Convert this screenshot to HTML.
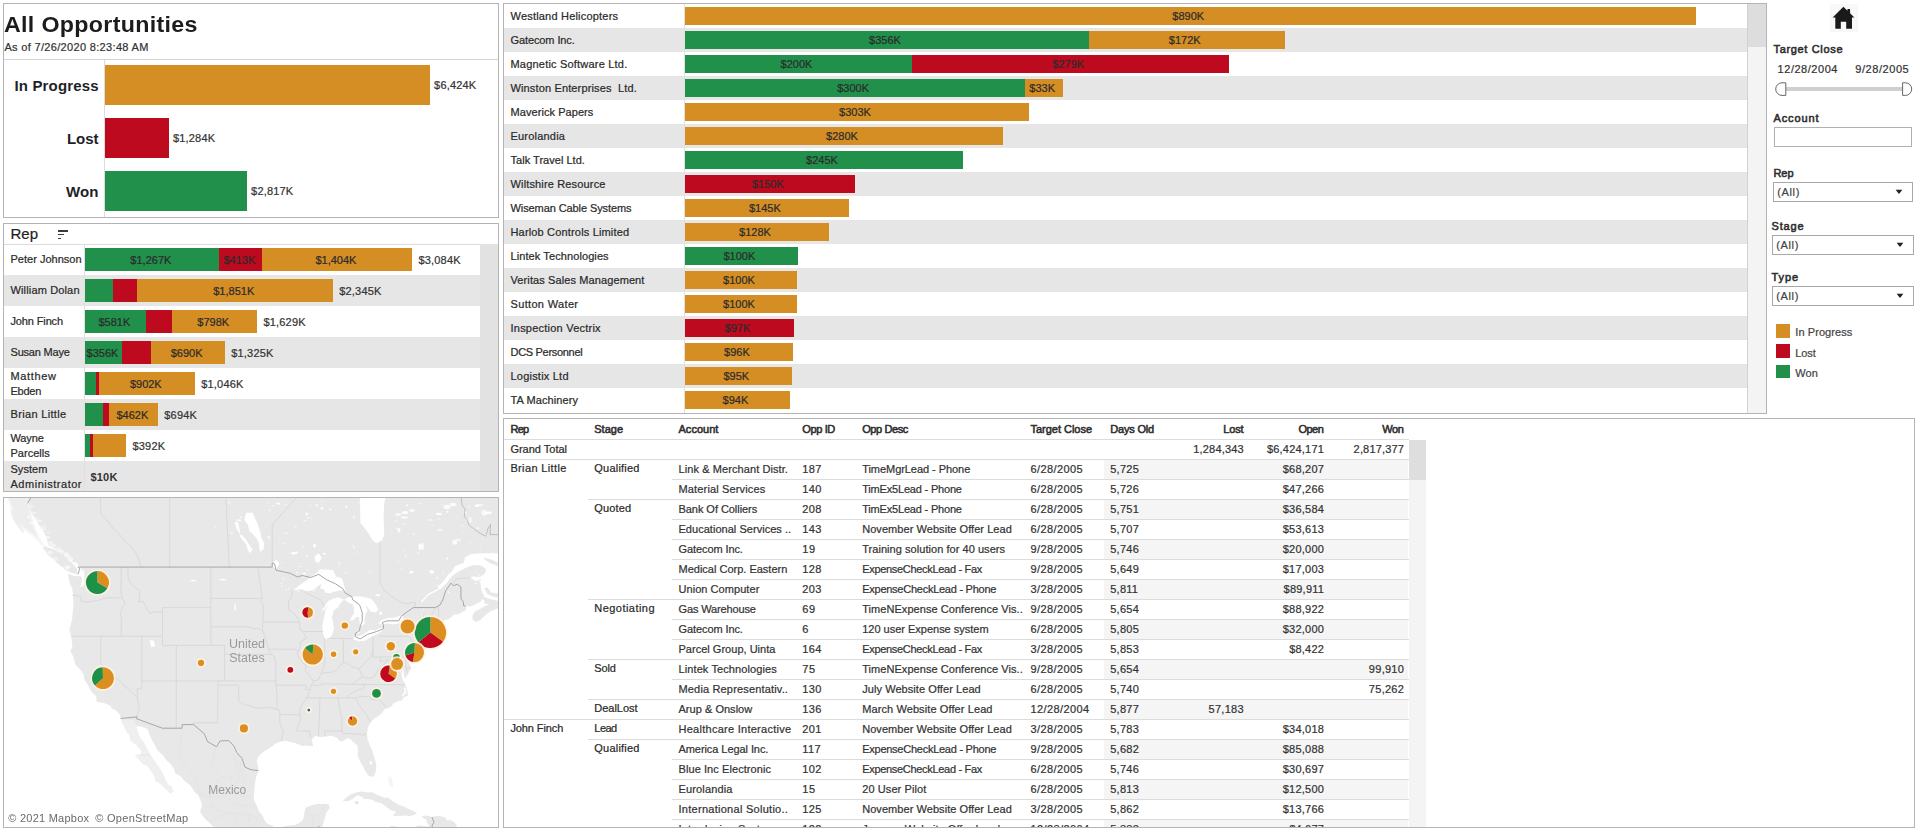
<!DOCTYPE html>
<html lang="en"><head><meta charset="utf-8"><title>All Opportunities</title><style>
html,body{margin:0;padding:0;background:#fff;}
body{width:1919px;height:836px;overflow:hidden;position:relative;font-family:"Liberation Sans",sans-serif;}
.t{position:absolute;white-space:pre;line-height:1;-webkit-text-stroke:0.22px currentColor;}
.sb{-webkit-text-stroke:0.55px currentColor;}
.r{position:absolute;}
.f{position:absolute;box-sizing:border-box;border:1px solid #b4b4b4;}
</style></head>
<body>
<!-- Panel A: All Opportunities -->
<div class="f" style="left:3px;top:3px;width:496px;height:215px;"></div>
<div class="t" style="left:4.40px;top:14.70px;font-size:21.5px;color:#1c1c1c;font-weight:700;-webkit-text-stroke:0;letter-spacing:0.300px;transform-origin:0 0;transform:scaleX(1.0799);">All Opportunities</div>
<div class="t" style="left:4.40px;top:41.59px;font-size:11px;color:#333;letter-spacing:0.329px;">As of 7/26/2020 8:23:48 AM</div>
<div class="r" style="left:4.00px;top:59.00px;width:494.00px;height:1.00px;background:#d4d4d4;"></div>
<div class="r" style="left:104.00px;top:60.00px;width:1.00px;height:157.00px;background:#dcdcdc;"></div>
<div class="r" style="left:105.00px;top:65.00px;width:324.80px;height:39.50px;background:#d58e24;"></div>
<div class="t" style="left:14.50px;top:78.30px;font-size:15px;color:#1f1f2a;font-weight:700;-webkit-text-stroke:0;letter-spacing:0.147px;">In Progress</div>
<div class="t" style="left:434.10px;top:80.44px;font-size:11px;color:#333;letter-spacing:0.170px;">$6,424K</div>
<div class="r" style="left:105.00px;top:118.20px;width:63.70px;height:39.50px;background:#be0a1f;"></div>
<div class="t" style="left:67.00px;top:131.00px;font-size:15px;color:#1f1f2a;font-weight:700;-webkit-text-stroke:0;letter-spacing:-0.055px;">Lost</div>
<div class="t" style="left:173.00px;top:132.64px;font-size:11px;color:#333;letter-spacing:0.170px;">$1,284K</div>
<div class="r" style="left:105.00px;top:171.20px;width:141.80px;height:39.50px;background:#21904a;"></div>
<div class="t" style="left:66.00px;top:183.50px;font-size:15px;color:#1f1f2a;font-weight:700;-webkit-text-stroke:0;letter-spacing:0.144px;">Won</div>
<div class="t" style="left:251.10px;top:185.64px;font-size:11px;color:#333;letter-spacing:0.170px;">$2,817K</div>
<!-- Panel B: Rep -->
<div class="f" style="left:3px;top:223px;width:496px;height:269px;"></div>
<div class="t" style="left:10.50px;top:226.20px;font-size:15px;color:#222;letter-spacing:0.041px;">Rep</div>
<div class="r" style="left:57.80px;top:230.00px;width:10.00px;height:1.60px;background:#3c3c3c;"></div>
<div class="r" style="left:57.80px;top:233.80px;width:6.70px;height:1.60px;background:#3c3c3c;"></div>
<div class="r" style="left:57.80px;top:237.90px;width:3.70px;height:1.60px;background:#3c3c3c;"></div>
<div class="r" style="left:4.00px;top:243.50px;width:494.00px;height:0.80px;background:#dcdcdc;"></div>
<div class="t" style="left:10.50px;top:253.79px;font-size:11px;color:#2a2a2a;letter-spacing:0.005px;">Peter Johnson</div>
<div class="r" style="left:85.00px;top:248.10px;width:133.90px;height:22.60px;background:#21904a;"></div>
<div class="r" style="left:218.90px;top:248.10px;width:43.20px;height:22.60px;background:#be0a1f;"></div>
<div class="r" style="left:262.10px;top:248.10px;width:149.80px;height:22.60px;background:#d58e24;"></div>
<div class="t" style="left:130.36px;top:255.09px;font-size:11px;color:#2b2b2b;">$1,267K</div>
<div class="t" style="left:223.50px;top:255.09px;font-size:11px;color:#2b2b2b;">$413K</div>
<div class="t" style="left:315.41px;top:255.09px;font-size:11px;color:#2b2b2b;">$1,404K</div>
<div class="t" style="left:418.40px;top:255.09px;font-size:11px;color:#333;letter-spacing:0.195px;">$3,084K</div>
<div class="r" style="left:4.00px;top:275.20px;width:475.50px;height:31.00px;background:#e6e6e6;"></div>
<div class="t" style="left:10.50px;top:284.79px;font-size:11px;color:#2a2a2a;letter-spacing:0.147px;">William Dolan</div>
<div class="r" style="left:85.00px;top:279.10px;width:28.00px;height:22.60px;background:#21904a;"></div>
<div class="r" style="left:113.00px;top:279.10px;width:24.00px;height:22.60px;background:#be0a1f;"></div>
<div class="r" style="left:137.00px;top:279.10px;width:195.70px;height:22.60px;background:#d58e24;"></div>
<div class="t" style="left:213.26px;top:286.09px;font-size:11px;color:#2b2b2b;">$1,851K</div>
<div class="t" style="left:339.20px;top:286.09px;font-size:11px;color:#333;letter-spacing:0.195px;">$2,345K</div>
<div class="t" style="left:10.50px;top:315.79px;font-size:11px;color:#2a2a2a;letter-spacing:-0.134px;">John Finch</div>
<div class="r" style="left:85.00px;top:310.10px;width:61.00px;height:22.60px;background:#21904a;"></div>
<div class="r" style="left:146.00px;top:310.10px;width:25.80px;height:22.60px;background:#be0a1f;"></div>
<div class="r" style="left:171.80px;top:310.10px;width:85.10px;height:22.60px;background:#d58e24;"></div>
<div class="t" style="left:98.50px;top:317.09px;font-size:11px;color:#2b2b2b;">$581K</div>
<div class="t" style="left:197.35px;top:317.09px;font-size:11px;color:#2b2b2b;">$798K</div>
<div class="t" style="left:263.40px;top:317.09px;font-size:11px;color:#333;letter-spacing:0.195px;">$1,629K</div>
<div class="r" style="left:4.00px;top:337.20px;width:475.50px;height:31.00px;background:#e6e6e6;"></div>
<div class="t" style="left:10.50px;top:346.79px;font-size:11px;color:#2a2a2a;letter-spacing:-0.194px;">Susan Maye</div>
<div class="r" style="left:85.00px;top:341.10px;width:37.20px;height:22.60px;background:#21904a;"></div>
<div class="r" style="left:122.20px;top:341.10px;width:28.50px;height:22.60px;background:#be0a1f;"></div>
<div class="r" style="left:150.70px;top:341.10px;width:74.00px;height:22.60px;background:#d58e24;"></div>
<div class="t" style="left:86.60px;top:348.09px;font-size:11px;color:#2b2b2b;">$356K</div>
<div class="t" style="left:170.70px;top:348.09px;font-size:11px;color:#2b2b2b;">$690K</div>
<div class="t" style="left:231.20px;top:348.09px;font-size:11px;color:#333;letter-spacing:0.195px;">$1,325K</div>
<div class="t" style="left:10.50px;top:371.09px;font-size:11px;color:#2a2a2a;letter-spacing:0.654px;">Matthew</div>
<div class="t" style="left:10.50px;top:385.99px;font-size:11px;color:#2a2a2a;letter-spacing:-0.252px;">Ebden</div>
<div class="r" style="left:85.00px;top:372.10px;width:10.80px;height:22.60px;background:#21904a;"></div>
<div class="r" style="left:95.80px;top:372.10px;width:3.30px;height:22.60px;background:#be0a1f;"></div>
<div class="r" style="left:99.10px;top:372.10px;width:95.60px;height:22.60px;background:#d58e24;"></div>
<div class="t" style="left:129.90px;top:379.09px;font-size:11px;color:#2b2b2b;">$902K</div>
<div class="t" style="left:201.20px;top:379.09px;font-size:11px;color:#333;letter-spacing:0.195px;">$1,046K</div>
<div class="r" style="left:4.00px;top:399.20px;width:475.50px;height:31.00px;background:#e6e6e6;"></div>
<div class="t" style="left:10.50px;top:408.79px;font-size:11px;color:#2a2a2a;letter-spacing:0.330px;">Brian Little</div>
<div class="r" style="left:85.00px;top:403.10px;width:17.50px;height:22.60px;background:#21904a;"></div>
<div class="r" style="left:102.50px;top:403.10px;width:6.70px;height:22.60px;background:#be0a1f;"></div>
<div class="r" style="left:109.20px;top:403.10px;width:48.50px;height:22.60px;background:#d58e24;"></div>
<div class="t" style="left:116.45px;top:410.09px;font-size:11px;color:#2b2b2b;">$462K</div>
<div class="t" style="left:164.20px;top:410.09px;font-size:11px;color:#333;letter-spacing:0.239px;">$694K</div>
<div class="t" style="left:10.50px;top:433.09px;font-size:11px;color:#2a2a2a;letter-spacing:-0.132px;">Wayne</div>
<div class="t" style="left:10.50px;top:447.99px;font-size:11px;color:#2a2a2a;letter-spacing:0.025px;">Parcells</div>
<div class="r" style="left:85.00px;top:434.10px;width:4.90px;height:22.60px;background:#21904a;"></div>
<div class="r" style="left:89.90px;top:434.10px;width:3.20px;height:22.60px;background:#be0a1f;"></div>
<div class="r" style="left:93.10px;top:434.10px;width:32.80px;height:22.60px;background:#d58e24;"></div>
<div class="t" style="left:132.40px;top:441.09px;font-size:11px;color:#333;letter-spacing:0.239px;">$392K</div>
<div class="r" style="left:4.00px;top:461.20px;width:475.50px;height:29.80px;background:#e6e6e6;"></div>
<div class="t" style="left:10.50px;top:464.09px;font-size:11px;color:#2a2a2a;letter-spacing:0.025px;">System</div>
<div class="t" style="left:10.50px;top:478.99px;font-size:11px;color:#2a2a2a;letter-spacing:0.517px;">Administrator</div>
<div class="t" style="left:90.40px;top:472.09px;font-size:11px;color:#333;font-weight:700;-webkit-text-stroke:0;letter-spacing:0.219px;">$10K</div>
<div class="r" style="left:84.00px;top:244.30px;width:1.00px;height:246.70px;background:#e0e0e0;"></div>
<div class="r" style="left:479.50px;top:244.30px;width:18.50px;height:246.70px;background:#e2e2e2;"></div>
<!-- Panel D: Accounts -->
<div class="f" style="left:503px;top:3px;width:1264px;height:411px;"></div>
<div class="t" style="left:510.50px;top:11.29px;font-size:11px;color:#2a2a2a;letter-spacing:0.198px;">Westland Helicopters</div>
<div class="r" style="left:685.00px;top:7.20px;width:1010.50px;height:17.40px;background:#d58e24;"></div>
<div class="t" style="left:1172.35px;top:10.99px;font-size:11px;color:#2b2b2b;">$890K</div>
<div class="r" style="left:504.00px;top:28.00px;width:1243.00px;height:24.00px;background:#e6e6e6;"></div>
<div class="t" style="left:510.50px;top:35.29px;font-size:11px;color:#2a2a2a;letter-spacing:-0.101px;">Gatecom Inc.</div>
<div class="r" style="left:685.00px;top:31.20px;width:404.00px;height:17.40px;background:#21904a;"></div>
<div class="t" style="left:869.10px;top:34.99px;font-size:11px;color:#2b2b2b;">$356K</div>
<div class="r" style="left:1089.00px;top:31.20px;width:195.50px;height:17.40px;background:#d58e24;"></div>
<div class="t" style="left:1168.85px;top:34.99px;font-size:11px;color:#2b2b2b;">$172K</div>
<div class="t" style="left:510.50px;top:59.29px;font-size:11px;color:#2a2a2a;letter-spacing:0.200px;">Magnetic Software Ltd.</div>
<div class="r" style="left:685.00px;top:55.20px;width:226.90px;height:17.40px;background:#21904a;"></div>
<div class="t" style="left:780.55px;top:58.99px;font-size:11px;color:#2b2b2b;">$200K</div>
<div class="r" style="left:911.90px;top:55.20px;width:316.70px;height:17.40px;background:#be0a1f;"></div>
<div class="t" style="left:1052.35px;top:58.99px;font-size:11px;color:#2b2b2b;">$279K</div>
<div class="r" style="left:504.00px;top:76.00px;width:1243.00px;height:24.00px;background:#e6e6e6;"></div>
<div class="t" style="left:510.50px;top:83.29px;font-size:11px;color:#2a2a2a;letter-spacing:0.142px;">Winston Enterprises  Ltd.</div>
<div class="r" style="left:685.00px;top:79.20px;width:340.30px;height:17.40px;background:#21904a;"></div>
<div class="t" style="left:837.25px;top:82.99px;font-size:11px;color:#2b2b2b;">$300K</div>
<div class="r" style="left:1025.30px;top:79.20px;width:37.70px;height:17.40px;background:#d58e24;"></div>
<div class="t" style="left:1029.30px;top:82.99px;font-size:11px;color:#2b2b2b;">$33K</div>
<div class="t" style="left:510.50px;top:107.29px;font-size:11px;color:#2a2a2a;letter-spacing:0.063px;">Maverick Papers</div>
<div class="r" style="left:685.00px;top:103.20px;width:344.00px;height:17.40px;background:#d58e24;"></div>
<div class="t" style="left:839.10px;top:106.99px;font-size:11px;color:#2b2b2b;">$303K</div>
<div class="r" style="left:504.00px;top:124.00px;width:1243.00px;height:24.00px;background:#e6e6e6;"></div>
<div class="t" style="left:510.50px;top:131.29px;font-size:11px;color:#2a2a2a;letter-spacing:0.200px;">Eurolandia</div>
<div class="r" style="left:685.00px;top:127.20px;width:318.00px;height:17.40px;background:#d58e24;"></div>
<div class="t" style="left:826.10px;top:130.99px;font-size:11px;color:#2b2b2b;">$280K</div>
<div class="t" style="left:510.50px;top:155.29px;font-size:11px;color:#2a2a2a;letter-spacing:0.028px;">Talk Travel Ltd.</div>
<div class="r" style="left:685.00px;top:151.20px;width:278.00px;height:17.40px;background:#21904a;"></div>
<div class="t" style="left:806.10px;top:154.99px;font-size:11px;color:#2b2b2b;">$245K</div>
<div class="r" style="left:504.00px;top:172.00px;width:1243.00px;height:24.00px;background:#e6e6e6;"></div>
<div class="t" style="left:510.50px;top:179.29px;font-size:11px;color:#2a2a2a;letter-spacing:0.153px;">Wiltshire Resource</div>
<div class="r" style="left:685.00px;top:175.20px;width:169.70px;height:17.40px;background:#be0a1f;"></div>
<div class="t" style="left:751.95px;top:178.99px;font-size:11px;color:#2b2b2b;">$150K</div>
<div class="t" style="left:510.50px;top:203.29px;font-size:11px;color:#2a2a2a;letter-spacing:-0.089px;">Wiseman Cable Systems</div>
<div class="r" style="left:685.00px;top:199.20px;width:163.70px;height:17.40px;background:#d58e24;"></div>
<div class="t" style="left:748.95px;top:202.99px;font-size:11px;color:#2b2b2b;">$145K</div>
<div class="r" style="left:504.00px;top:220.00px;width:1243.00px;height:24.00px;background:#e6e6e6;"></div>
<div class="t" style="left:510.50px;top:227.29px;font-size:11px;color:#2a2a2a;letter-spacing:0.166px;">Harlob Controls Limited</div>
<div class="r" style="left:685.00px;top:223.20px;width:143.90px;height:17.40px;background:#d58e24;"></div>
<div class="t" style="left:739.05px;top:226.99px;font-size:11px;color:#2b2b2b;">$128K</div>
<div class="t" style="left:510.50px;top:251.29px;font-size:11px;color:#2a2a2a;letter-spacing:0.093px;">Lintek Technologies</div>
<div class="r" style="left:685.00px;top:247.20px;width:112.80px;height:17.40px;background:#21904a;"></div>
<div class="t" style="left:723.50px;top:250.99px;font-size:11px;color:#2b2b2b;">$100K</div>
<div class="r" style="left:504.00px;top:268.00px;width:1243.00px;height:24.00px;background:#e6e6e6;"></div>
<div class="t" style="left:510.50px;top:275.29px;font-size:11px;color:#2a2a2a;letter-spacing:0.106px;">Veritas Sales Management</div>
<div class="r" style="left:685.00px;top:271.20px;width:112.00px;height:17.40px;background:#d58e24;"></div>
<div class="t" style="left:723.10px;top:274.99px;font-size:11px;color:#2b2b2b;">$100K</div>
<div class="t" style="left:510.50px;top:299.29px;font-size:11px;color:#2a2a2a;letter-spacing:0.337px;">Sutton Water</div>
<div class="r" style="left:685.00px;top:295.20px;width:112.00px;height:17.40px;background:#d58e24;"></div>
<div class="t" style="left:723.10px;top:298.99px;font-size:11px;color:#2b2b2b;">$100K</div>
<div class="r" style="left:504.00px;top:316.00px;width:1243.00px;height:24.00px;background:#e6e6e6;"></div>
<div class="t" style="left:510.50px;top:323.29px;font-size:11px;color:#2a2a2a;letter-spacing:0.229px;">Inspection Vectrix</div>
<div class="r" style="left:685.00px;top:319.20px;width:108.90px;height:17.40px;background:#be0a1f;"></div>
<div class="t" style="left:724.60px;top:322.99px;font-size:11px;color:#2b2b2b;">$97K</div>
<div class="t" style="left:510.50px;top:347.29px;font-size:11px;color:#2a2a2a;letter-spacing:-0.301px;">DCS Personnel</div>
<div class="r" style="left:685.00px;top:343.20px;width:107.80px;height:17.40px;background:#d58e24;"></div>
<div class="t" style="left:724.05px;top:346.99px;font-size:11px;color:#2b2b2b;">$96K</div>
<div class="r" style="left:504.00px;top:364.00px;width:1243.00px;height:24.00px;background:#e6e6e6;"></div>
<div class="t" style="left:510.50px;top:371.29px;font-size:11px;color:#2a2a2a;letter-spacing:0.214px;">Logistix Ltd</div>
<div class="r" style="left:685.00px;top:367.20px;width:106.70px;height:17.40px;background:#d58e24;"></div>
<div class="t" style="left:723.50px;top:370.99px;font-size:11px;color:#2b2b2b;">$95K</div>
<div class="t" style="left:510.50px;top:395.29px;font-size:11px;color:#2a2a2a;letter-spacing:0.097px;">TA Machinery</div>
<div class="r" style="left:685.00px;top:391.20px;width:104.80px;height:17.40px;background:#d58e24;"></div>
<div class="t" style="left:722.55px;top:394.99px;font-size:11px;color:#2b2b2b;">$94K</div>
<div class="r" style="left:684.00px;top:4.00px;width:1.00px;height:409.00px;background:#e0e0e0;"></div>
<div class="r" style="left:1747.00px;top:4.00px;width:19.00px;height:409.00px;background:#f4f4f4;"></div>
<div class="r" style="left:1747.00px;top:4.00px;width:1.00px;height:409.00px;background:#d2d2d2;"></div>
<div class="r" style="left:1748.00px;top:4.00px;width:17.50px;height:43.00px;background:#dddddd;"></div>
<!-- Filters -->
<div class="r" style="left:1829.60px;top:4.30px;width:28.40px;height:27.80px;background:#f8f8f8;"></div>
<svg class="r" style="left:1829px;top:4px" width="30" height="29" viewBox="1829 4 30 29"><path d="M1843.4 6.7 L1847.5 10.7 V9.0 H1850.1 V13.3 L1854.4 17.6 H1852 V28.7 H1846.2 V21.8 H1840.8 V28.7 H1835.3 V17.6 H1832.6 Z" fill="#1a1a1a"/></svg>
<div class="t sb" style="left:1773.50px;top:43.79px;font-size:11px;color:#2e2e2e;letter-spacing:0.659px;">Target Close</div>
<div class="t" style="left:1777.60px;top:63.69px;font-size:11px;color:#333;letter-spacing:0.527px;">12/28/2004</div>
<div class="t" style="left:1855.30px;top:63.69px;font-size:11px;color:#333;letter-spacing:0.558px;">9/28/2005</div>
<div class="r" style="left:1785.50px;top:86.60px;width:117.20px;height:4.80px;background:#cfcfcf;"></div>
<svg class="r" style="left:1774px;top:81px" width="140" height="16" viewBox="0 0 140 16"><path d="M11.8 1.8 H8 A6.2 6.2 0 0 0 8 14.4 H11.8 Z" fill="#fff" stroke="#666" stroke-width="1"/><path d="M128.6 1.8 H131.4 A6.2 6.2 0 0 1 131.4 14.4 H128.6 Z" fill="#fff" stroke="#666" stroke-width="1"/></svg>
<div class="t sb" style="left:1773.50px;top:112.69px;font-size:11px;color:#2e2e2e;letter-spacing:0.876px;">Account</div>
<div class="f" style="left:1774px;top:127px;width:138px;height:20px;border-color:#b0b0b0;background:#fff;"></div>
<div class="t sb" style="left:1773.50px;top:167.69px;font-size:11px;color:#2e2e2e;letter-spacing:-0.090px;">Rep</div>
<div class="f" style="left:1773px;top:182px;width:140px;height:20px;border-color:#a8a8a8;background:#fff;"></div>
<div class="t" style="left:1777.30px;top:187.09px;font-size:11px;color:#444;letter-spacing:0.612px;">(All)</div>
<svg class="r" style="left:1895px;top:188.5px" width="8" height="6" viewBox="0 0 8 6"><path d="M0.6 0.8 H7.4 L4 5 Z" fill="#222"/></svg>
<div class="t sb" style="left:1771.60px;top:221.39px;font-size:11px;color:#2e2e2e;letter-spacing:0.813px;">Stage</div>
<div class="f" style="left:1772px;top:235px;width:142px;height:20px;border-color:#a8a8a8;background:#fff;"></div>
<div class="t" style="left:1776.30px;top:240.09px;font-size:11px;color:#444;letter-spacing:0.612px;">(All)</div>
<svg class="r" style="left:1896px;top:241.5px" width="8" height="6" viewBox="0 0 8 6"><path d="M0.6 0.8 H7.4 L4 5 Z" fill="#222"/></svg>
<div class="t sb" style="left:1771.60px;top:272.39px;font-size:11px;color:#2e2e2e;letter-spacing:0.884px;">Type</div>
<div class="f" style="left:1772px;top:286px;width:142px;height:20px;border-color:#a8a8a8;background:#fff;"></div>
<div class="t" style="left:1776.30px;top:291.09px;font-size:11px;color:#444;letter-spacing:0.612px;">(All)</div>
<svg class="r" style="left:1896px;top:292.5px" width="8" height="6" viewBox="0 0 8 6"><path d="M0.6 0.8 H7.4 L4 5 Z" fill="#222"/></svg>
<div class="r" style="left:1776.00px;top:324.30px;width:14.00px;height:13.50px;background:#d58e24;"></div>
<div class="t" style="left:1795.30px;top:327.39px;font-size:11px;color:#444;letter-spacing:0.075px;">In Progress</div>
<div class="r" style="left:1776.00px;top:344.20px;width:14.00px;height:13.50px;background:#be0a1f;"></div>
<div class="t" style="left:1795.30px;top:347.59px;font-size:11px;color:#444;letter-spacing:-0.097px;">Lost</div>
<div class="r" style="left:1776.00px;top:364.60px;width:14.00px;height:13.50px;background:#21904a;"></div>
<div class="t" style="left:1795.30px;top:367.59px;font-size:11px;color:#444;letter-spacing:0.040px;">Won</div>
<!-- Panel E: table -->
<div class="f" style="left:503px;top:418px;width:1412px;height:410px;"></div>
<div class="r" style="left:504px;top:419px;width:1410px;height:408px;overflow:hidden">
<div class="t sb" style="left:6.40px;top:4.89px;font-size:11px;color:#2e2e2e;letter-spacing:-0.690px;">Rep</div>
<div class="t sb" style="left:90.30px;top:4.89px;font-size:11px;color:#2e2e2e;letter-spacing:-0.012px;">Stage</div>
<div class="t sb" style="left:174.50px;top:4.89px;font-size:11px;color:#2e2e2e;letter-spacing:0.026px;">Account</div>
<div class="t sb" style="left:298.20px;top:4.89px;font-size:11px;color:#2e2e2e;letter-spacing:-0.350px;">Opp ID</div>
<div class="t sb" style="left:358.20px;top:4.89px;font-size:11px;color:#2e2e2e;letter-spacing:-0.401px;">Opp Desc</div>
<div class="t sb" style="left:526.50px;top:4.89px;font-size:11px;color:#2e2e2e;letter-spacing:-0.023px;">Target Close</div>
<div class="t sb" style="left:606.20px;top:4.89px;font-size:11px;color:#2e2e2e;letter-spacing:-0.177px;">Days Old</div>
<div class="t sb" style="left:719.30px;top:4.89px;font-size:11px;color:#2e2e2e;letter-spacing:-0.164px;">Lost</div>
<div class="t sb" style="left:794.40px;top:4.89px;font-size:11px;color:#2e2e2e;letter-spacing:-0.470px;">Open</div>
<div class="t sb" style="left:878.30px;top:4.89px;font-size:11px;color:#2e2e2e;letter-spacing:-0.410px;">Won</div>
<div class="r" style="left:0.00px;top:20.00px;width:904.50px;height:1.00px;background:#dcdcdc;"></div>
<div class="t" style="left:6.40px;top:24.99px;font-size:11px;color:#2a2a2a;">Grand Total</div>
<div class="t" style="left:689.30px;top:24.99px;font-size:11px;color:#333;letter-spacing:0.170px;">1,284,343</div>
<div class="t" style="left:762.90px;top:24.99px;font-size:11px;color:#333;letter-spacing:0.216px;">$6,424,171</div>
<div class="t" style="left:849.60px;top:24.99px;font-size:11px;color:#333;letter-spacing:0.170px;">2,817,377</div>
<div class="r" style="left:0.00px;top:40.00px;width:904.50px;height:1.00px;background:#dcdcdc;"></div>
<div class="r" style="left:600.20px;top:41.00px;width:304.30px;height:19.00px;background:#f5f5f5;"></div>
<div class="t" style="left:6.40px;top:44.29px;font-size:11px;color:#2a2a2a;letter-spacing:0.366px;">Brian Little</div>
<div class="t" style="left:90.30px;top:44.29px;font-size:11px;color:#2a2a2a;letter-spacing:0.211px;">Qualified</div>
<div class="t" style="left:174.50px;top:45.29px;font-size:11px;color:#333;letter-spacing:0.086px;">Link &amp; Merchant Distr.</div>
<div class="t" style="left:298.20px;top:45.29px;font-size:11px;color:#333;letter-spacing:0.459px;">187</div>
<div class="t" style="left:358.20px;top:45.29px;font-size:11px;color:#333;letter-spacing:-0.052px;">TimeMgrLead - Phone</div>
<div class="t" style="left:526.50px;top:45.29px;font-size:11px;color:#333;letter-spacing:0.398px;">6/28/2005</div>
<div class="t" style="left:606.20px;top:45.29px;font-size:11px;color:#333;letter-spacing:0.275px;">5,725</div>
<div class="t" style="left:778.72px;top:45.29px;font-size:11px;color:#333;letter-spacing:0.237px;">$68,207</div>
<div class="r" style="left:168.00px;top:60.00px;width:736.50px;height:1.00px;background:#dcdcdc;"></div>
<div class="t" style="left:174.50px;top:65.29px;font-size:11px;color:#333;letter-spacing:0.152px;">Material Services</div>
<div class="t" style="left:298.20px;top:65.29px;font-size:11px;color:#333;letter-spacing:0.459px;">140</div>
<div class="t" style="left:358.20px;top:65.29px;font-size:11px;color:#333;letter-spacing:-0.184px;">TimEx5Lead - Phone</div>
<div class="t" style="left:526.50px;top:65.29px;font-size:11px;color:#333;letter-spacing:0.398px;">6/28/2005</div>
<div class="t" style="left:606.20px;top:65.29px;font-size:11px;color:#333;letter-spacing:0.275px;">5,726</div>
<div class="t" style="left:778.72px;top:65.29px;font-size:11px;color:#333;letter-spacing:0.237px;">$47,266</div>
<div class="r" style="left:84.00px;top:80.00px;width:820.50px;height:1.00px;background:#dcdcdc;"></div>
<div class="r" style="left:600.20px;top:81.00px;width:304.30px;height:19.00px;background:#f5f5f5;"></div>
<div class="t" style="left:90.30px;top:84.29px;font-size:11px;color:#2a2a2a;letter-spacing:0.123px;">Quoted</div>
<div class="t" style="left:174.50px;top:85.29px;font-size:11px;color:#333;letter-spacing:-0.051px;">Bank Of Colliers</div>
<div class="t" style="left:298.20px;top:85.29px;font-size:11px;color:#333;letter-spacing:0.459px;">208</div>
<div class="t" style="left:358.20px;top:85.29px;font-size:11px;color:#333;letter-spacing:-0.184px;">TimEx5Lead - Phone</div>
<div class="t" style="left:526.50px;top:85.29px;font-size:11px;color:#333;letter-spacing:0.398px;">6/28/2005</div>
<div class="t" style="left:606.20px;top:85.29px;font-size:11px;color:#333;letter-spacing:0.275px;">5,751</div>
<div class="t" style="left:778.72px;top:85.29px;font-size:11px;color:#333;letter-spacing:0.237px;">$36,584</div>
<div class="r" style="left:168.00px;top:100.00px;width:736.50px;height:1.00px;background:#dcdcdc;"></div>
<div class="t" style="left:174.50px;top:105.29px;font-size:11px;color:#333;letter-spacing:0.032px;">Educational Services ..</div>
<div class="t" style="left:298.20px;top:105.29px;font-size:11px;color:#333;letter-spacing:0.459px;">143</div>
<div class="t" style="left:358.20px;top:105.29px;font-size:11px;color:#333;letter-spacing:0.057px;">November Website Offer Lead</div>
<div class="t" style="left:526.50px;top:105.29px;font-size:11px;color:#333;letter-spacing:0.398px;">6/28/2005</div>
<div class="t" style="left:606.20px;top:105.29px;font-size:11px;color:#333;letter-spacing:0.275px;">5,707</div>
<div class="t" style="left:778.72px;top:105.29px;font-size:11px;color:#333;letter-spacing:0.237px;">$53,613</div>
<div class="r" style="left:168.00px;top:120.00px;width:736.50px;height:1.00px;background:#dcdcdc;"></div>
<div class="r" style="left:600.20px;top:121.00px;width:304.30px;height:19.00px;background:#f5f5f5;"></div>
<div class="t" style="left:174.50px;top:125.29px;font-size:11px;color:#333;letter-spacing:-0.092px;">Gatecom Inc.</div>
<div class="t" style="left:298.20px;top:125.29px;font-size:11px;color:#333;letter-spacing:0.612px;">19</div>
<div class="t" style="left:358.20px;top:125.29px;font-size:11px;color:#333;letter-spacing:0.049px;">Training solution for 40 users</div>
<div class="t" style="left:526.50px;top:125.29px;font-size:11px;color:#333;letter-spacing:0.398px;">9/28/2005</div>
<div class="t" style="left:606.20px;top:125.29px;font-size:11px;color:#333;letter-spacing:0.275px;">5,746</div>
<div class="t" style="left:778.72px;top:125.29px;font-size:11px;color:#333;letter-spacing:0.237px;">$20,000</div>
<div class="r" style="left:168.00px;top:140.00px;width:736.50px;height:1.00px;background:#dcdcdc;"></div>
<div class="t" style="left:174.50px;top:145.29px;font-size:11px;color:#333;">Medical Corp. Eastern</div>
<div class="t" style="left:298.20px;top:145.29px;font-size:11px;color:#333;letter-spacing:0.459px;">128</div>
<div class="t" style="left:358.20px;top:145.29px;font-size:11px;color:#333;letter-spacing:-0.308px;">ExpenseCheckLead - Fax</div>
<div class="t" style="left:526.50px;top:145.29px;font-size:11px;color:#333;letter-spacing:0.398px;">9/28/2005</div>
<div class="t" style="left:606.20px;top:145.29px;font-size:11px;color:#333;letter-spacing:0.275px;">5,649</div>
<div class="t" style="left:778.72px;top:145.29px;font-size:11px;color:#333;letter-spacing:0.237px;">$17,003</div>
<div class="r" style="left:168.00px;top:160.00px;width:736.50px;height:1.00px;background:#dcdcdc;"></div>
<div class="r" style="left:600.20px;top:161.00px;width:304.30px;height:19.00px;background:#f5f5f5;"></div>
<div class="t" style="left:174.50px;top:165.29px;font-size:11px;color:#333;letter-spacing:0.054px;">Union Computer</div>
<div class="t" style="left:298.20px;top:165.29px;font-size:11px;color:#333;letter-spacing:0.459px;">203</div>
<div class="t" style="left:358.20px;top:165.29px;font-size:11px;color:#333;letter-spacing:-0.254px;">ExpenseCheckLead - Phone</div>
<div class="t" style="left:526.50px;top:165.29px;font-size:11px;color:#333;letter-spacing:0.398px;">3/28/2005</div>
<div class="t" style="left:606.20px;top:165.29px;font-size:11px;color:#333;letter-spacing:0.267px;">5,811</div>
<div class="t" style="left:779.56px;top:165.29px;font-size:11px;color:#333;letter-spacing:0.232px;">$89,911</div>
<div class="r" style="left:84.00px;top:180.00px;width:820.50px;height:1.00px;background:#dcdcdc;"></div>
<div class="t" style="left:90.30px;top:184.29px;font-size:11px;color:#2a2a2a;letter-spacing:0.455px;">Negotiating</div>
<div class="t" style="left:174.50px;top:185.29px;font-size:11px;color:#333;letter-spacing:-0.140px;">Gas Warehouse</div>
<div class="t" style="left:298.20px;top:185.29px;font-size:11px;color:#333;letter-spacing:0.612px;">69</div>
<div class="t" style="left:358.20px;top:185.29px;font-size:11px;color:#333;letter-spacing:0.057px;">TimeNExpense Conference Vis..</div>
<div class="t" style="left:526.50px;top:185.29px;font-size:11px;color:#333;letter-spacing:0.398px;">9/28/2005</div>
<div class="t" style="left:606.20px;top:185.29px;font-size:11px;color:#333;letter-spacing:0.275px;">5,654</div>
<div class="t" style="left:778.72px;top:185.29px;font-size:11px;color:#333;letter-spacing:0.237px;">$88,922</div>
<div class="r" style="left:168.00px;top:200.00px;width:736.50px;height:1.00px;background:#dcdcdc;"></div>
<div class="r" style="left:600.20px;top:201.00px;width:304.30px;height:19.00px;background:#f5f5f5;"></div>
<div class="t" style="left:174.50px;top:205.29px;font-size:11px;color:#333;letter-spacing:-0.092px;">Gatecom Inc.</div>
<div class="t" style="left:298.20px;top:205.29px;font-size:11px;color:#333;">6</div>
<div class="t" style="left:358.20px;top:205.29px;font-size:11px;color:#333;letter-spacing:-0.008px;">120 user Expense system</div>
<div class="t" style="left:526.50px;top:205.29px;font-size:11px;color:#333;letter-spacing:0.398px;">6/28/2005</div>
<div class="t" style="left:606.20px;top:205.29px;font-size:11px;color:#333;letter-spacing:0.275px;">5,805</div>
<div class="t" style="left:778.72px;top:205.29px;font-size:11px;color:#333;letter-spacing:0.237px;">$32,000</div>
<div class="r" style="left:168.00px;top:220.00px;width:736.50px;height:1.00px;background:#dcdcdc;"></div>
<div class="t" style="left:174.50px;top:225.29px;font-size:11px;color:#333;letter-spacing:0.017px;">Parcel Group, Uinta</div>
<div class="t" style="left:298.20px;top:225.29px;font-size:11px;color:#333;letter-spacing:0.459px;">164</div>
<div class="t" style="left:358.20px;top:225.29px;font-size:11px;color:#333;letter-spacing:-0.308px;">ExpenseCheckLead - Fax</div>
<div class="t" style="left:526.50px;top:225.29px;font-size:11px;color:#333;letter-spacing:0.398px;">3/28/2005</div>
<div class="t" style="left:606.20px;top:225.29px;font-size:11px;color:#333;letter-spacing:0.275px;">5,853</div>
<div class="t" style="left:785.13px;top:225.29px;font-size:11px;color:#333;letter-spacing:0.224px;">$8,422</div>
<div class="r" style="left:84.00px;top:240.00px;width:820.50px;height:1.00px;background:#dcdcdc;"></div>
<div class="r" style="left:600.20px;top:241.00px;width:304.30px;height:19.00px;background:#f5f5f5;"></div>
<div class="t" style="left:90.30px;top:244.29px;font-size:11px;color:#2a2a2a;letter-spacing:-0.139px;">Sold</div>
<div class="t" style="left:174.50px;top:245.29px;font-size:11px;color:#333;letter-spacing:0.099px;">Lintek Technologies</div>
<div class="t" style="left:298.20px;top:245.29px;font-size:11px;color:#333;letter-spacing:0.612px;">75</div>
<div class="t" style="left:358.20px;top:245.29px;font-size:11px;color:#333;letter-spacing:0.057px;">TimeNExpense Conference Vis..</div>
<div class="t" style="left:526.50px;top:245.29px;font-size:11px;color:#333;letter-spacing:0.398px;">9/28/2005</div>
<div class="t" style="left:606.20px;top:245.29px;font-size:11px;color:#333;letter-spacing:0.275px;">5,654</div>
<div class="t" style="left:864.85px;top:245.29px;font-size:11px;color:#333;letter-spacing:0.280px;">99,910</div>
<div class="r" style="left:168.00px;top:260.00px;width:736.50px;height:1.00px;background:#dcdcdc;"></div>
<div class="t" style="left:174.50px;top:265.29px;font-size:11px;color:#333;letter-spacing:0.161px;">Media Representativ..</div>
<div class="t" style="left:298.20px;top:265.29px;font-size:11px;color:#333;letter-spacing:0.459px;">130</div>
<div class="t" style="left:358.20px;top:265.29px;font-size:11px;color:#333;letter-spacing:0.069px;">July Website Offer Lead</div>
<div class="t" style="left:526.50px;top:265.29px;font-size:11px;color:#333;letter-spacing:0.398px;">6/28/2005</div>
<div class="t" style="left:606.20px;top:265.29px;font-size:11px;color:#333;letter-spacing:0.275px;">5,740</div>
<div class="t" style="left:864.85px;top:265.29px;font-size:11px;color:#333;letter-spacing:0.280px;">75,262</div>
<div class="r" style="left:84.00px;top:280.00px;width:820.50px;height:1.00px;background:#dcdcdc;"></div>
<div class="r" style="left:600.20px;top:281.00px;width:304.30px;height:19.00px;background:#f5f5f5;"></div>
<div class="t" style="left:90.30px;top:284.29px;font-size:11px;color:#2a2a2a;letter-spacing:-0.017px;">DealLost</div>
<div class="t" style="left:174.50px;top:285.29px;font-size:11px;color:#333;letter-spacing:0.028px;">Arup &amp; Onslow</div>
<div class="t" style="left:298.20px;top:285.29px;font-size:11px;color:#333;letter-spacing:0.459px;">136</div>
<div class="t" style="left:358.20px;top:285.29px;font-size:11px;color:#333;letter-spacing:0.100px;">March Website Offer Lead</div>
<div class="t" style="left:526.50px;top:285.29px;font-size:11px;color:#333;letter-spacing:0.398px;">12/28/2004</div>
<div class="t" style="left:606.20px;top:285.29px;font-size:11px;color:#333;letter-spacing:0.275px;">5,877</div>
<div class="t" style="left:704.55px;top:285.29px;font-size:11px;color:#333;letter-spacing:0.280px;">57,183</div>
<div class="r" style="left:0.00px;top:300.00px;width:904.50px;height:1.00px;background:#dcdcdc;"></div>
<div class="t" style="left:6.40px;top:304.29px;font-size:11px;color:#2a2a2a;letter-spacing:-0.101px;">John Finch</div>
<div class="t" style="left:90.30px;top:304.29px;font-size:11px;color:#2a2a2a;letter-spacing:-0.524px;">Lead</div>
<div class="t" style="left:174.50px;top:305.29px;font-size:11px;color:#333;letter-spacing:0.267px;">Healthcare Interactive</div>
<div class="t" style="left:298.20px;top:305.29px;font-size:11px;color:#333;letter-spacing:0.459px;">201</div>
<div class="t" style="left:358.20px;top:305.29px;font-size:11px;color:#333;letter-spacing:0.057px;">November Website Offer Lead</div>
<div class="t" style="left:526.50px;top:305.29px;font-size:11px;color:#333;letter-spacing:0.398px;">3/28/2005</div>
<div class="t" style="left:606.20px;top:305.29px;font-size:11px;color:#333;letter-spacing:0.275px;">5,783</div>
<div class="t" style="left:778.72px;top:305.29px;font-size:11px;color:#333;letter-spacing:0.237px;">$34,018</div>
<div class="r" style="left:84.00px;top:320.00px;width:820.50px;height:1.00px;background:#dcdcdc;"></div>
<div class="r" style="left:600.20px;top:321.00px;width:304.30px;height:19.00px;background:#f5f5f5;"></div>
<div class="t" style="left:90.30px;top:324.29px;font-size:11px;color:#2a2a2a;letter-spacing:0.211px;">Qualified</div>
<div class="t" style="left:174.50px;top:325.29px;font-size:11px;color:#333;letter-spacing:-0.071px;">America Legal Inc.</div>
<div class="t" style="left:298.20px;top:325.29px;font-size:11px;color:#333;letter-spacing:0.438px;">117</div>
<div class="t" style="left:358.20px;top:325.29px;font-size:11px;color:#333;letter-spacing:-0.254px;">ExpenseCheckLead - Phone</div>
<div class="t" style="left:526.50px;top:325.29px;font-size:11px;color:#333;letter-spacing:0.398px;">9/28/2005</div>
<div class="t" style="left:606.20px;top:325.29px;font-size:11px;color:#333;letter-spacing:0.275px;">5,682</div>
<div class="t" style="left:778.72px;top:325.29px;font-size:11px;color:#333;letter-spacing:0.237px;">$85,088</div>
<div class="r" style="left:168.00px;top:340.00px;width:736.50px;height:1.00px;background:#dcdcdc;"></div>
<div class="t" style="left:174.50px;top:345.29px;font-size:11px;color:#333;letter-spacing:0.078px;">Blue Inc Electronic</div>
<div class="t" style="left:298.20px;top:345.29px;font-size:11px;color:#333;letter-spacing:0.459px;">102</div>
<div class="t" style="left:358.20px;top:345.29px;font-size:11px;color:#333;letter-spacing:-0.308px;">ExpenseCheckLead - Fax</div>
<div class="t" style="left:526.50px;top:345.29px;font-size:11px;color:#333;letter-spacing:0.398px;">6/28/2005</div>
<div class="t" style="left:606.20px;top:345.29px;font-size:11px;color:#333;letter-spacing:0.275px;">5,746</div>
<div class="t" style="left:778.72px;top:345.29px;font-size:11px;color:#333;letter-spacing:0.237px;">$30,697</div>
<div class="r" style="left:168.00px;top:360.00px;width:736.50px;height:1.00px;background:#dcdcdc;"></div>
<div class="r" style="left:600.20px;top:361.00px;width:304.30px;height:19.00px;background:#f5f5f5;"></div>
<div class="t" style="left:174.50px;top:365.29px;font-size:11px;color:#333;letter-spacing:0.145px;">Eurolandia</div>
<div class="t" style="left:298.20px;top:365.29px;font-size:11px;color:#333;letter-spacing:0.612px;">15</div>
<div class="t" style="left:358.20px;top:365.29px;font-size:11px;color:#333;letter-spacing:0.094px;">20 User Pilot</div>
<div class="t" style="left:526.50px;top:365.29px;font-size:11px;color:#333;letter-spacing:0.398px;">6/28/2005</div>
<div class="t" style="left:606.20px;top:365.29px;font-size:11px;color:#333;letter-spacing:0.275px;">5,813</div>
<div class="t" style="left:778.72px;top:365.29px;font-size:11px;color:#333;letter-spacing:0.237px;">$12,500</div>
<div class="r" style="left:168.00px;top:380.00px;width:736.50px;height:1.00px;background:#dcdcdc;"></div>
<div class="t" style="left:174.50px;top:385.29px;font-size:11px;color:#333;letter-spacing:0.275px;">International Solutio..</div>
<div class="t" style="left:298.20px;top:385.29px;font-size:11px;color:#333;letter-spacing:0.459px;">125</div>
<div class="t" style="left:358.20px;top:385.29px;font-size:11px;color:#333;letter-spacing:0.057px;">November Website Offer Lead</div>
<div class="t" style="left:526.50px;top:385.29px;font-size:11px;color:#333;letter-spacing:0.398px;">3/28/2005</div>
<div class="t" style="left:606.20px;top:385.29px;font-size:11px;color:#333;letter-spacing:0.275px;">5,862</div>
<div class="t" style="left:778.72px;top:385.29px;font-size:11px;color:#333;letter-spacing:0.237px;">$13,766</div>
<div class="r" style="left:168.00px;top:400.00px;width:736.50px;height:1.00px;background:#dcdcdc;"></div>
<div class="r" style="left:600.20px;top:401.00px;width:304.30px;height:19.00px;background:#f5f5f5;"></div>
<div class="t" style="left:174.50px;top:405.29px;font-size:11px;color:#333;letter-spacing:0.166px;">Introducing Systems</div>
<div class="t" style="left:298.20px;top:405.29px;font-size:11px;color:#333;letter-spacing:0.459px;">122</div>
<div class="t" style="left:358.20px;top:405.29px;font-size:11px;color:#333;letter-spacing:0.055px;">January Website Offer Lead</div>
<div class="t" style="left:526.50px;top:405.29px;font-size:11px;color:#333;letter-spacing:0.398px;">12/28/2004</div>
<div class="t" style="left:606.20px;top:405.29px;font-size:11px;color:#333;letter-spacing:0.275px;">5,883</div>
<div class="t" style="left:785.13px;top:405.29px;font-size:11px;color:#333;letter-spacing:0.224px;">$4,677</div>
<div class="r" style="left:168.00px;top:420.00px;width:736.50px;height:1.00px;background:#dcdcdc;"></div>
<div class="r" style="left:904.50px;top:21.00px;width:17.00px;height:387.00px;background:#f4f4f4;"></div>
<div class="r" style="left:904.50px;top:21.00px;width:17.00px;height:40.00px;background:#dedede;"></div>
</div>
<!-- Panel C: map -->
<div class="f" style="left:3px;top:497px;width:496px;height:331px;"></div>
<svg class="r" style="left:4px;top:498px" width="494" height="329" viewBox="0 0 494 329" font-family="Liberation Sans, sans-serif">
<rect width="494" height="329" fill="#ffffff"/>
<defs><filter id="bl" x="-5%" y="-5%" width="110%" height="110%"><feGaussianBlur stdDeviation="0.55"/></filter><filter id="bl2" x="-5%" y="-5%" width="110%" height="110%"><feGaussianBlur stdDeviation="1.1"/></filter></defs>
<path d="M23.6 -3.1 L24.6 5.3 L25.6 10.1 L28.4 16.0 L31.8 21.8 L35.3 27.5 L39.4 33.2 L42.2 38.8 L43.6 44.3 L45.0 47.6 L49.8 49.8 L56.7 54.2 L61.5 58.5 L65.0 61.7 L69.8 64.4 L73.9 65.9 L75.3 69.1 L77.4 70.2 L78.8 74.3 L79.8 78.5 L80.1 83.6 L79.1 87.7 L76.3 89.2 L77.4 84.7 L78.1 80.0 L76.7 78.3 L73.2 78.2 L69.1 77.7 L64.3 75.6 L64.6 80.6 L66.3 86.7 L68.4 90.7 L68.8 96.8 L69.4 104.7 L68.8 113.5 L68.1 121.2 L66.3 128.8 L65.3 130.7 L67.0 138.2 L67.7 142.8 L68.4 149.2 L66.3 152.8 L69.1 158.2 L70.5 162.7 L71.2 166.3 L76.0 171.6 L79.5 175.9 L80.1 181.2 L83.6 186.3 L87.7 194.0 L92.2 198.3 L92.6 203.7 L100.1 205.0 L107.0 208.3 L107.7 210.4 L111.2 211.7 L115.3 215.8 L116.7 220.3 L118.1 224.8 L122.2 232.9 L125.7 237.7 L126.4 242.5 L132.6 247.2 L136.7 252.0 L137.4 256.7 L131.2 258.2 L134.6 261.3 L138.8 266.0 L142.9 267.5 L146.4 272.2 L150.5 278.3 L151.2 282.8 L155.4 285.1 L159.5 288.9 L163.6 292.7 L166.0 295.8 L169.5 293.4 L167.8 288.9 L163.6 285.9 L160.9 280.6 L158.8 275.2 L156.7 271.4 L153.3 266.8 L149.8 262.1 L146.4 256.7 L142.9 250.4 L140.9 245.7 L136.0 239.3 L133.3 232.9 L132.6 228.0 L138.1 228.8 L143.6 231.3 L145.0 235.3 L147.8 241.7 L150.5 246.4 L153.3 252.0 L158.8 257.1 L162.2 262.1 L167.1 266.8 L169.8 270.6 L171.2 275.2 L176.7 278.3 L180.2 282.8 L186.4 287.4 L190.2 293.4 L194.7 297.9 L196.8 303.1 L198.1 306.8 L196.8 311.3 L196.1 314.2 L200.2 320.1 L205.0 324.5 L210.5 329.6 L214.0 335.4 L265.8 335.4 L269.2 327.8 L263.7 325.9 L260.9 323.0 L258.9 318.6 L254.7 312.7 L253.0 308.3 L250.2 302.4 L249.5 300.1 L250.2 294.9 L250.6 287.4 L252.0 279.8 L254.4 272.5 L254.0 268.3 L252.6 262.9 L254.7 258.2 L258.9 254.3 L263.7 251.2 L268.5 248.0 L271.3 245.7 L277.1 243.3 L283.0 242.9 L287.8 244.5 L291.3 244.9 L294.7 246.4 L298.2 248.0 L302.3 247.6 L306.5 248.0 L309.2 248.0 L308.5 244.9 L307.8 240.9 L311.3 238.1 L317.5 238.9 L321.0 238.5 L327.9 237.7 L333.4 240.1 L335.8 243.3 L338.9 243.3 L343.0 240.5 L345.8 240.5 L349.2 244.1 L353.4 247.6 L354.1 253.5 L353.4 257.4 L355.1 261.3 L357.5 266.0 L359.9 269.8 L361.0 272.9 L364.4 277.5 L366.5 278.7 L369.9 278.3 L371.7 274.1 L372.4 266.8 L370.6 260.6 L368.6 253.5 L366.5 248.8 L363.7 241.7 L363.0 235.3 L363.7 230.5 L365.8 225.6 L366.5 224.4 L369.9 220.7 L373.4 218.7 L378.2 215.0 L380.3 211.2 L386.5 209.2 L390.0 205.0 L395.5 202.5 L396.9 203.3 L400.3 199.1 L403.8 197.8 L403.8 193.2 L401.3 186.8 L400.3 183.8 L400.6 181.6 L403.1 177.7 L405.8 172.4 L406.9 170.2 L406.5 167.2 L404.4 163.6 L403.4 160.9 L405.1 162.7 L407.9 165.8 L411.3 161.8 L413.4 158.2 L414.1 152.8 L413.8 150.6 L415.8 148.3 L416.9 147.4 L421.7 145.1 L427.9 144.6 L431.4 143.7 L432.0 141.4 L434.8 142.8 L437.2 142.3 L441.7 141.4 L442.0 140.5 L441.7 137.7 L440.3 137.5 L441.0 140.0 L438.2 140.0 L437.2 138.2 L434.8 134.9 L436.2 133.0 L437.6 132.1 L436.2 130.2 L436.9 128.3 L437.9 126.0 L440.3 122.6 L443.1 121.7 L446.5 119.8 L450.0 116.4 L454.1 116.4 L458.3 114.0 L462.4 111.6 L461.7 108.1 L465.9 108.6 L469.3 107.2 L476.2 103.7 L478.3 102.2 L480.3 105.7 L485.9 106.2 L481.0 108.1 L476.2 111.1 L470.7 113.5 L468.3 118.3 L468.6 121.7 L472.1 124.1 L476.2 122.2 L481.0 117.4 L485.9 113.5 L493.5 110.6 L503.8 106.7 L503.8 100.8 L493.5 102.7 L486.6 101.3 L481.0 99.8 L479.7 97.3 L477.6 92.8 L476.9 88.7 L476.2 84.7 L476.9 81.6 L471.4 83.1 L467.2 80.0 L464.5 79.5 L469.3 78.5 L476.2 79.0 L479.7 76.4 L481.7 74.3 L481.7 70.7 L476.9 67.5 L469.3 67.0 L462.4 69.6 L455.5 73.3 L452.1 74.9 L445.2 80.6 L440.3 85.7 L436.2 89.7 L433.4 91.8 L438.2 85.7 L442.4 79.5 L443.8 78.0 L448.6 72.3 L451.4 68.1 L459.6 64.9 L461.0 59.6 L466.5 56.3 L476.2 55.3 L483.1 55.3 L490.0 55.3 L503.8 56.3 L503.8 -5.5 L376.1 -5.5 L382.4 -5.5 L380.3 5.3 L379.9 12.4 L379.6 19.5 L379.9 27.5 L380.3 34.3 L379.6 38.8 L377.5 42.7 L374.8 44.9 L370.6 44.3 L367.2 39.9 L363.7 34.3 L359.6 28.6 L356.5 25.2 L356.1 13.6 L356.1 -5.5 Z" fill="#e8e8e8"/>
<path d="M278.9 335.4 L279.6 328.5 L285.4 327.4 L291.3 327.0 L294.7 325.2 L298.9 321.9 L299.9 318.3 L300.6 313.5 L301.6 309.8 L307.1 307.6 L314.1 305.7 L321.0 306.1 L324.4 306.1 L325.8 309.8 L322.3 315.0 L321.0 319.4 L319.6 324.5 L318.2 328.8 L317.5 335.4 Z" fill="#e8e8e8"/>
<path d="M38.7 49.8 L45.0 57.4 L51.9 63.8 L56.7 68.1 L62.2 72.3 L69.1 75.4 L73.2 75.9 L73.2 71.2 L69.1 65.9 L62.2 59.6 L58.8 55.3 L48.4 50.9 L41.5 48.2 Z" fill="#e8e8e8"/>
<path d="M6.3 11.9 L12.5 13.0 L16.0 14.8 L14.6 21.8 L16.7 26.4 L20.1 34.3 L18.7 35.4 L13.9 28.6 L10.5 24.1 L7.7 18.3 Z" fill="#efefef"/>
<path d="M2.2 -5.5 L13.9 -5.5 L14.6 1.7 L11.1 4.7 L5.6 2.9 Z" fill="#efefef"/>
<path d="M414.4 151.2 L419.6 150.6 L424.5 148.7 L428.6 146.9 L425.8 146.0 L421.0 147.8 L416.2 148.5 Z" fill="#e8e8e8"/>
<path d="M479.7 59.6 L485.9 61.2 L491.4 63.3 L499.0 68.1 L494.1 68.1 L486.6 65.4 L481.0 61.7 Z" fill="#e8e8e8"/>
<path d="M480.3 90.2 L483.1 89.2 L487.9 94.8 L493.5 95.3 L496.9 95.3 L493.5 99.8 L487.9 98.3 L483.1 95.8 Z" fill="#e8e8e8"/>
<path d="M338.5 303.3 L342.3 299.4 L345.8 296.8 L350.6 294.9 L356.1 293.6 L362.4 294.2 L368.6 294.5 L374.1 297.2 L379.6 299.4 L384.4 299.8 L389.3 303.5 L394.1 306.5 L400.3 308.7 L403.1 310.2 L408.6 312.4 L413.1 315.3 L410.6 316.8 L405.8 317.9 L401.7 317.5 L394.8 317.9 L388.6 318.3 L392.0 313.8 L386.5 312.0 L383.1 309.4 L377.5 305.3 L370.6 303.5 L369.2 302.0 L364.4 300.9 L360.3 300.9 L358.2 299.0 L353.4 297.2 L349.2 300.5 L345.1 302.7 Z" fill="#e8e8e8"/>
<path d="M350.6 303.1 L354.1 303.1 L355.1 305.3 L352.7 306.5 L351.0 305.7 Z" fill="#e8e8e8"/>
<path d="M417.9 318.3 L422.4 317.5 L427.9 319.0 L430.0 318.3 L434.8 317.9 L437.6 318.6 L441.7 319.7 L442.4 321.9 L447.2 322.3 L450.7 324.8 L453.1 327.4 L451.4 330.3 L445.2 335.4 L410.6 335.4 L411.0 329.2 L414.1 327.4 L419.6 328.1 L423.8 328.5 L425.5 327.8 L422.7 324.5 L422.4 321.6 L418.9 319.7 Z" fill="#e8e8e8"/>
<path d="M384.1 329.6 L387.2 328.1 L392.0 328.5 L397.5 330.3 L398.2 335.4 L384.4 335.4 Z" fill="#e8e8e8"/>
<path d="M384.1 278.7 L387.2 279.0 L388.6 284.4 L389.3 288.5 L386.8 288.9 L384.4 283.6 Z" fill="#f4f4f4"/>
<path d="M4.5 -1.0 L6.6 7.9 L11.8 21.1 L19.7 30.3 L30.3 38.2 L39.5 48.7 L43.4 55.3 L48.0 59.0 L42.0 50.0 L36.0 42.0 L32.0 34.0 L28.0 22.0 L26.0 10.0 L24.0 -1.0 Z" fill="#ededed" filter="url(#bl2)"/>
<path d="M116.7 220.3 L118.1 224.8 L122.2 232.9 L125.7 237.7 L126.4 242.5 L132.6 247.2 L136.7 252.0 L137.4 256.7 L131.2 258.2 L134.6 261.3 L138.8 266.0 L142.9 267.5 L146.4 272.2 L150.5 278.3 L151.2 282.8 L155.4 285.1 L159.5 288.9 L163.6 292.7 L166.0 295.8 L169.5 293.4 L167.8 288.9 L163.6 285.9 L160.9 280.6 L158.8 275.2 L156.7 271.4 L153.3 266.8 L149.8 262.1 L146.4 256.7 L142.9 250.4 L140.9 245.7 L136.0 239.3 L133.3 232.9 L132.6 228.0 L129.8 222.3 Z" fill="#fff" opacity="0.3"/>
<g filter="url(#bl)">
<path d="M289.2 92.3 L296.8 86.2 L303.7 81.6 L308.5 77.5 L312.7 74.9 L315.4 71.2 L324.4 71.7 L329.2 72.3 L332.0 78.5 L338.2 80.6 L339.9 86.7 L341.0 90.7 L341.6 94.8 L338.2 92.3 L331.3 93.3 L326.5 95.3 L321.6 94.8 L319.6 91.3 L316.1 90.2 L317.5 86.2 L318.9 85.2 L314.1 87.7 L310.6 91.3 L303.7 93.3 L298.2 91.3 L295.4 91.3 Z" fill="#ffffff"/>
<path d="M339.9 101.7 L334.1 99.3 L327.9 101.3 L324.4 102.7 L320.3 108.6 L317.5 114.0 L321.0 111.1 L324.1 106.7 L321.6 112.0 L321.0 115.4 L319.6 121.2 L318.2 128.8 L318.9 134.4 L320.3 139.5 L322.3 141.7 L325.1 140.5 L327.9 137.2 L329.9 130.7 L329.2 125.0 L327.9 119.3 L329.6 112.5 L334.1 109.6 L335.4 106.7 L338.2 103.2 Z" fill="#ffffff"/>
<path d="M340.3 101.3 L345.1 99.3 L352.0 98.3 L358.9 98.8 L362.4 99.8 L367.2 100.8 L372.0 106.7 L374.1 111.6 L372.0 114.5 L366.5 113.5 L363.7 109.6 L361.0 107.2 L363.7 112.5 L361.7 115.4 L360.6 121.7 L360.6 126.0 L356.1 128.8 L355.5 123.1 L354.8 119.3 L352.7 118.8 L349.2 122.2 L345.8 122.6 L347.9 118.3 L349.9 115.4 L349.9 109.6 L348.6 106.2 L344.4 104.7 Z" fill="#ffffff"/>
<path d="M348.9 140.9 L354.1 143.2 L361.0 142.8 L365.8 139.5 L372.0 136.8 L377.5 133.5 L380.3 130.2 L376.1 130.0 L371.3 132.6 L365.8 132.1 L360.3 135.4 L355.5 138.2 L351.3 137.7 Z" fill="#ffffff"/>
<path d="M374.1 126.0 L376.8 122.6 L383.1 120.2 L390.0 119.8 L396.9 117.4 L398.9 118.3 L398.9 123.6 L396.2 125.0 L389.3 126.4 L383.1 125.5 L379.3 126.4 Z" fill="#ffffff"/>
<path d="M352.7 134.0 L354.4 132.1 L355.8 134.4 L354.1 135.4 Z" fill="#ffffff"/>
<path d="M256.1 54.2 L259.5 50.9 L260.2 45.4 L257.5 39.9 L256.1 33.2 L253.3 25.2 L250.6 19.5 L248.5 14.8 L242.3 14.8 L240.2 21.8 L243.7 26.4 L245.7 33.2 L251.3 38.8 L254.7 44.3 L255.4 49.8 Z" fill="#ffffff"/>
<path d="M246.4 55.3 L243.7 52.0 L242.3 46.5 L238.8 42.1 L235.4 37.7 L237.5 36.6 L241.6 41.0 L245.0 46.5 L248.5 50.9 Z" fill="#ffffff"/>
<path d="M236.1 36.6 L232.6 30.9 L230.6 24.1 L234.0 24.1 L235.4 29.8 Z" fill="#ffffff"/>
<path d="M311.3 63.8 L315.4 64.4 L317.5 59.6 L314.7 55.3 L310.6 58.5 Z" fill="#ffffff"/>
<path d="M268.5 65.4 L272.6 61.7 L275.4 65.9 L272.0 70.7 L269.2 69.1 Z" fill="#ffffff"/>
<path d="M365.8 263.3 L368.2 263.3 L368.2 266.4 L365.8 266.4 Z" fill="#ffffff"/>
<path d="M425.1 72.3 L429.3 72.3 L430.0 74.9 L426.5 75.4 Z" fill="#ffffff"/>
<path d="M417.9 110.1 L419.6 110.6 L418.6 119.3 L417.9 119.3 Z" fill="#ffffff"/>
<path d="M145.7 141.9 L149.8 142.8 L151.2 148.3 L147.1 149.2 Z" fill="#ffffff"/>
<path d="M371.3 96.3 L376.1 96.3 L375.5 98.3 L372.0 97.8 Z" fill="#ffffff"/>
<path d="M375.5 113.5 L378.2 114.0 L377.9 116.9 L375.5 116.4 Z" fill="#ffffff"/>
<path d="M400.3 182.9 L398.9 177.7 L398.2 172.4 L397.2 167.2 L398.2 162.7" fill="none" stroke="#ffffff" stroke-width="2.2" stroke-linecap="round" stroke-linejoin="round" opacity="1"/>
<path d="M398.2 174.2 L394.1 171.6" fill="none" stroke="#ffffff" stroke-width="1.2" stroke-linecap="round" stroke-linejoin="round" opacity="1"/>
<path d="M407.2 166.3 L404.8 162.7" fill="none" stroke="#ffffff" stroke-width="2.6" stroke-linecap="round" stroke-linejoin="round" opacity="1"/>
<path d="M398.9 197.4 L401.7 194.0 L401.0 190.6" fill="none" stroke="#ffffff" stroke-width="2.0" stroke-linecap="round" stroke-linejoin="round" opacity="0.8"/>
<path d="M79.5 72.3 L79.5 79.5 L79.8 84.7 L78.1 87.7" fill="none" stroke="#ffffff" stroke-width="1.6" stroke-linecap="round" stroke-linejoin="round" opacity="1"/>
<path d="M423.8 146.5 L418.2 147.5" fill="none" stroke="#ffffff" stroke-width="1.5" stroke-linecap="round" stroke-linejoin="round" opacity="1"/>
<path d="M472.8 109.6 L479.0 105.7 L479.0 102.7" fill="none" stroke="#ffffff" stroke-width="3.0" stroke-linecap="round" stroke-linejoin="round" opacity="1"/>
<path d="M433.4 91.8 L424.5 96.3 L417.6 103.7" fill="none" stroke="#ffffff" stroke-width="1.3" stroke-linecap="round" stroke-linejoin="round" opacity="1"/>
<path d="M435.5 89.7 L441.7 83.6 L445.8 77.5" fill="none" stroke="#ffffff" stroke-width="3.5" stroke-linecap="round" stroke-linejoin="round" opacity="1"/>
<ellipse cx="27.2" cy="8.5" rx="2.6" ry="1.1" fill="#fff" opacity="0.5375587015073412"/>
<ellipse cx="30.1" cy="14.7" rx="2.4" ry="1.0" fill="#fff" opacity="0.501775989281835"/>
<ellipse cx="31.3" cy="20.4" rx="2.2" ry="2.0" fill="#fff" opacity="0.39333068640237595"/>
<ellipse cx="35.2" cy="22.6" rx="3.1" ry="1.7" fill="#fff" opacity="0.48883816612777303"/>
<ellipse cx="39.4" cy="28.5" rx="3.0" ry="1.3" fill="#fff" opacity="0.40048927917510313"/>
<ellipse cx="39.8" cy="31.4" rx="2.9" ry="1.2" fill="#fff" opacity="0.5535600572818632"/>
<ellipse cx="44.6" cy="34.6" rx="2.4" ry="1.1" fill="#fff" opacity="0.3708604094881814"/>
<ellipse cx="44.1" cy="39.5" rx="2.2" ry="1.4" fill="#fff" opacity="0.5549466522276736"/>
<ellipse cx="46.9" cy="44.8" rx="2.9" ry="1.8" fill="#fff" opacity="0.43543377875275346"/>
<ellipse cx="49.3" cy="47.6" rx="3.0" ry="1.9" fill="#fff" opacity="0.45077821771156523"/>
<ellipse cx="54.6" cy="50.7" rx="2.2" ry="1.9" fill="#fff" opacity="0.4031945871311766"/>
<ellipse cx="57.3" cy="53.5" rx="2.6" ry="1.9" fill="#fff" opacity="0.5505590790970843"/>
<ellipse cx="61.9" cy="55.7" rx="2.7" ry="1.7" fill="#fff" opacity="0.5529633214988723"/>
<ellipse cx="63.5" cy="57.8" rx="3.1" ry="1.6" fill="#fff" opacity="0.582453271916136"/>
<ellipse cx="66.5" cy="61.3" rx="2.6" ry="2.2" fill="#fff" opacity="0.6376736753134002"/>
<ellipse cx="71.3" cy="65.1" rx="2.6" ry="1.0" fill="#fff" opacity="0.511593350204918"/>
<ellipse cx="53.0" cy="66.8" rx="1.6" ry="1.9" fill="#fff" opacity="0.39526907770653946"/>
<ellipse cx="57.4" cy="69.3" rx="3.0" ry="1.1" fill="#fff" opacity="0.5072155903322658"/>
<ellipse cx="46.5" cy="54.4" rx="2.9" ry="2.0" fill="#fff" opacity="0.447447372579864"/>
<ellipse cx="50.9" cy="60.9" rx="3.0" ry="2.1" fill="#fff" opacity="0.4028223170268881"/>
<ellipse cx="24.7" cy="18.9" rx="1.9" ry="1.6" fill="#fff" opacity="0.5561932263062894"/>
<ellipse cx="27.7" cy="25.2" rx="2.2" ry="1.4" fill="#fff" opacity="0.5482194282972371"/>
<ellipse cx="36.5" cy="33.9" rx="2.4" ry="1.7" fill="#fff" opacity="0.5866700288573254"/>
<ellipse cx="63.7" cy="69.3" rx="2.8" ry="2.0" fill="#fff" opacity="0.6292555924187981"/>
<ellipse cx="318.1" cy="60.1" rx="0.6" ry="0.9" fill="#fff" opacity="0.47801151972840944"/>
<ellipse cx="310.0" cy="92.6" rx="1.6" ry="0.9" fill="#fff" opacity="0.5168477183989012"/>
<ellipse cx="278.5" cy="64.7" rx="1.0" ry="0.5" fill="#fff" opacity="0.8320216169180767"/>
<ellipse cx="488.0" cy="54.0" rx="1.1" ry="0.5" fill="#fff" opacity="0.4959844275366758"/>
<ellipse cx="304.0" cy="72.0" rx="1.6" ry="0.5" fill="#fff" opacity="0.4603930744703617"/>
<ellipse cx="476.1" cy="48.3" rx="0.7" ry="0.8" fill="#fff" opacity="0.4621691211399758"/>
<ellipse cx="356.5" cy="5.1" rx="1.6" ry="1.0" fill="#fff" opacity="0.5675018387532129"/>
<ellipse cx="310.8" cy="80.5" rx="1.5" ry="0.8" fill="#fff" opacity="0.8005747011021798"/>
<ellipse cx="300.4" cy="75.7" rx="1.6" ry="1.2" fill="#fff" opacity="0.8336829594359972"/>
<ellipse cx="435.1" cy="20.9" rx="1.5" ry="0.6" fill="#fff" opacity="0.6829374259095775"/>
<ellipse cx="307.7" cy="92.3" rx="0.5" ry="0.6" fill="#fff" opacity="0.5666284634704905"/>
<ellipse cx="403.0" cy="7.3" rx="1.1" ry="1.1" fill="#fff" opacity="0.8946171261912871"/>
<ellipse cx="477.3" cy="63.2" rx="0.8" ry="0.6" fill="#fff" opacity="0.5385177735386928"/>
<ellipse cx="264.9" cy="39.4" rx="1.7" ry="1.1" fill="#fff" opacity="0.6657630418176922"/>
<ellipse cx="391.8" cy="22.7" rx="0.6" ry="0.9" fill="#fff" opacity="0.8593997118982754"/>
<ellipse cx="428.4" cy="27.5" rx="1.1" ry="0.5" fill="#fff" opacity="0.8051109439591244"/>
<ellipse cx="301.2" cy="22.6" rx="1.8" ry="0.7" fill="#fff" opacity="0.6306240680404657"/>
<ellipse cx="474.9" cy="29.9" rx="0.7" ry="0.5" fill="#fff" opacity="0.5180178151716704"/>
<ellipse cx="463.1" cy="22.1" rx="0.7" ry="1.1" fill="#fff" opacity="0.8911376745511637"/>
<ellipse cx="393.0" cy="64.4" rx="1.2" ry="0.5" fill="#fff" opacity="0.4564093221702475"/>
<ellipse cx="481.8" cy="37.0" rx="1.2" ry="1.1" fill="#fff" opacity="0.6452142465408686"/>
<ellipse cx="453.7" cy="20.2" rx="0.8" ry="0.6" fill="#fff" opacity="0.5818349937015985"/>
<ellipse cx="275.1" cy="42.9" rx="0.8" ry="0.7" fill="#fff" opacity="0.5089831544265675"/>
<ellipse cx="464.5" cy="64.1" rx="1.1" ry="0.9" fill="#fff" opacity="0.856933548543918"/>
<ellipse cx="326.1" cy="11.2" rx="1.2" ry="0.8" fill="#fff" opacity="0.6855779635142248"/>
<ellipse cx="433.2" cy="80.1" rx="1.1" ry="1.0" fill="#fff" opacity="0.700414031205996"/>
<ellipse cx="299.3" cy="49.2" rx="1.2" ry="1.0" fill="#fff" opacity="0.49774923769721774"/>
<ellipse cx="365.6" cy="73.4" rx="0.9" ry="1.0" fill="#fff" opacity="0.6784712963065442"/>
<ellipse cx="366.0" cy="26.5" rx="1.7" ry="0.8" fill="#fff" opacity="0.7256375479550072"/>
<ellipse cx="350.1" cy="49.8" rx="1.4" ry="0.8" fill="#fff" opacity="0.6899784469106269"/>
<ellipse cx="342.3" cy="8.8" rx="1.4" ry="1.1" fill="#fff" opacity="0.8739812647366091"/>
<ellipse cx="280.5" cy="45.4" rx="1.7" ry="1.1" fill="#fff" opacity="0.5117104961535832"/>
<ellipse cx="227.8" cy="35.2" rx="1.5" ry="1.1" fill="#fff" opacity="0.5195009806959114"/>
<ellipse cx="409.7" cy="36.0" rx="0.7" ry="1.1" fill="#fff" opacity="0.8853951521998727"/>
<ellipse cx="269.2" cy="7.7" rx="1.0" ry="0.8" fill="#fff" opacity="0.8954421546349289"/>
<ellipse cx="442.6" cy="81.0" rx="1.1" ry="0.8" fill="#fff" opacity="0.6026022649524689"/>
<ellipse cx="262.5" cy="67.3" rx="1.4" ry="0.4" fill="#fff" opacity="0.6993226115137476"/>
<ellipse cx="331.7" cy="93.2" rx="0.9" ry="0.9" fill="#fff" opacity="0.680518028008555"/>
<ellipse cx="225.3" cy="4.4" rx="1.5" ry="1.2" fill="#fff" opacity="0.4971508174227742"/>
<ellipse cx="282.2" cy="91.4" rx="1.5" ry="0.6" fill="#fff" opacity="0.5083000016875548"/>
<ellipse cx="326.6" cy="11.8" rx="1.6" ry="0.6" fill="#fff" opacity="0.5172155763318352"/>
<ellipse cx="467.1" cy="44.4" rx="1.4" ry="0.5" fill="#fff" opacity="0.47588693059842585"/>
<ellipse cx="401.8" cy="57.7" rx="0.6" ry="1.2" fill="#fff" opacity="0.7354977778334518"/>
<ellipse cx="433.9" cy="87.7" rx="1.6" ry="0.5" fill="#fff" opacity="0.8382487360742308"/>
<ellipse cx="335.5" cy="65.4" rx="1.2" ry="1.1" fill="#fff" opacity="0.5705368860048544"/>
<ellipse cx="274.6" cy="85.5" rx="0.7" ry="0.4" fill="#fff" opacity="0.5407957119458251"/>
<ellipse cx="295.4" cy="68.5" rx="1.5" ry="0.6" fill="#fff" opacity="0.6750398699378277"/>
<ellipse cx="211.4" cy="29.1" rx="1.2" ry="0.6" fill="#fff" opacity="0.6636422873329801"/>
<ellipse cx="471.5" cy="85.7" rx="1.6" ry="0.7" fill="#fff" opacity="0.672750708055927"/>
<ellipse cx="443.2" cy="60.6" rx="1.2" ry="1.0" fill="#fff" opacity="0.8920982431866586"/>
<ellipse cx="304.1" cy="19.6" rx="1.4" ry="0.9" fill="#fff" opacity="0.6321139689180786"/>
<ellipse cx="305.4" cy="90.2" rx="0.7" ry="0.5" fill="#fff" opacity="0.7834001391823174"/>
<ellipse cx="279.4" cy="80.8" rx="0.6" ry="1.1" fill="#fff" opacity="0.8417420195614868"/>
<ellipse cx="396.8" cy="70.5" rx="0.8" ry="0.6" fill="#fff" opacity="0.6567538245276243"/>
<ellipse cx="281.6" cy="6.8" rx="1.8" ry="0.8" fill="#fff" opacity="0.5600009222738521"/>
<ellipse cx="480.3" cy="68.1" rx="1.0" ry="0.4" fill="#fff" opacity="0.621731972975662"/>
<ellipse cx="341.4" cy="50.7" rx="0.8" ry="0.8" fill="#fff" opacity="0.4522277391767745"/>
<ellipse cx="281.8" cy="87.2" rx="1.0" ry="0.4" fill="#fff" opacity="0.4601223661366159"/>
<ellipse cx="293.2" cy="74.8" rx="1.3" ry="0.8" fill="#fff" opacity="0.7877432835836966"/>
<ellipse cx="393.1" cy="30.8" rx="1.6" ry="0.7" fill="#fff" opacity="0.5967606393568573"/>
<ellipse cx="485.7" cy="82.0" rx="1.4" ry="0.9" fill="#fff" opacity="0.46970463001121365"/>
<ellipse cx="443.4" cy="13.7" rx="1.3" ry="1.0" fill="#fff" opacity="0.8154985120705773"/>
<ellipse cx="349.8" cy="19.3" rx="1.5" ry="1.1" fill="#fff" opacity="0.7128276825628075"/>
<ellipse cx="459.7" cy="33.9" rx="1.4" ry="0.6" fill="#fff" opacity="0.4640222368302788"/>
<ellipse cx="236.8" cy="19.2" rx="1.2" ry="0.9" fill="#fff" opacity="0.7318019065197536"/>
<ellipse cx="399.7" cy="51.9" rx="0.5" ry="1.0" fill="#fff" opacity="0.7867194166006677"/>
<ellipse cx="349.4" cy="47.7" rx="1.4" ry="0.5" fill="#fff" opacity="0.7815547478440128"/>
<ellipse cx="278.4" cy="88.5" rx="0.8" ry="1.0" fill="#fff" opacity="0.5423478871869389"/>
<ellipse cx="416.4" cy="5.4" rx="1.1" ry="0.7" fill="#fff" opacity="0.6655545738317817"/>
<ellipse cx="400.5" cy="25.9" rx="1.3" ry="0.9" fill="#fff" opacity="0.48486231878301034"/>
<ellipse cx="417.4" cy="68.5" rx="1.2" ry="0.4" fill="#fff" opacity="0.4772974563286388"/>
<ellipse cx="283.1" cy="34.9" rx="1.4" ry="0.9" fill="#fff" opacity="0.5808854152932161"/>
<ellipse cx="353.2" cy="54.1" rx="1.1" ry="0.5" fill="#fff" opacity="0.8521483167788716"/>
<ellipse cx="263.5" cy="5.1" rx="1.7" ry="0.4" fill="#fff" opacity="0.6565368703336187"/>
<ellipse cx="439.0" cy="6.1" rx="1.1" ry="0.6" fill="#fff" opacity="0.5444267489943627"/>
<ellipse cx="474.6" cy="76.7" rx="1.3" ry="0.5" fill="#fff" opacity="0.6858295706496689"/>
<ellipse cx="476.6" cy="83.5" rx="1.6" ry="0.8" fill="#fff" opacity="0.8490879718266793"/>
<ellipse cx="406.1" cy="74.9" rx="1.7" ry="0.8" fill="#fff" opacity="0.46117548139079934"/>
<ellipse cx="334.6" cy="68.7" rx="0.7" ry="0.7" fill="#fff" opacity="0.5922351204187364"/>
<ellipse cx="444.8" cy="94.6" rx="1.5" ry="1.1" fill="#fff" opacity="0.5040186064164821"/>
<ellipse cx="469.2" cy="31.0" rx="1.7" ry="0.6" fill="#fff" opacity="0.6174998997095213"/>
<ellipse cx="318.3" cy="3.1" rx="1.3" ry="0.7" fill="#fff" opacity="0.6426237381253047"/>
<ellipse cx="284.9" cy="90.7" rx="0.6" ry="1.1" fill="#fff" opacity="0.5785304355303464"/>
<ellipse cx="471.8" cy="73.4" rx="0.8" ry="0.8" fill="#fff" opacity="0.5354320712233531"/>
<ellipse cx="312.7" cy="7.3" rx="1.6" ry="1.0" fill="#fff" opacity="0.7339031117410865"/>
<ellipse cx="465.5" cy="8.9" rx="1.2" ry="1.0" fill="#fff" opacity="0.4722642154996053"/>
<ellipse cx="414.3" cy="55.4" rx="1.5" ry="0.9" fill="#fff" opacity="0.5787937441357135"/>
<ellipse cx="221.0" cy="10.3" rx="0.7" ry="0.8" fill="#fff" opacity="0.6046482836960682"/>
<ellipse cx="291.3" cy="28.6" rx="1.8" ry="0.6" fill="#fff" opacity="0.745197896714503"/>
<ellipse cx="292.2" cy="45.6" rx="1.0" ry="0.5" fill="#fff" opacity="0.5227456326322761"/>
<ellipse cx="265.9" cy="12.3" rx="1.1" ry="0.6" fill="#fff" opacity="0.8578167255951122"/>
<ellipse cx="489.0" cy="55.5" rx="0.7" ry="0.6" fill="#fff" opacity="0.4908215286479353"/>
<ellipse cx="303.8" cy="87.0" rx="0.8" ry="0.6" fill="#fff" opacity="0.7063279840421962"/>
<ellipse cx="458.1" cy="27.5" rx="1.0" ry="0.7" fill="#fff" opacity="0.6858756642379031"/>
<ellipse cx="313.7" cy="65.5" rx="0.6" ry="0.6" fill="#fff" opacity="0.8854583681528669"/>
<ellipse cx="385.2" cy="16.6" rx="0.8" ry="0.6" fill="#fff" opacity="0.5618041423935618"/>
<ellipse cx="320.2" cy="55.8" rx="1.7" ry="1.1" fill="#fff" opacity="0.8428009438188238"/>
<ellipse cx="407.8" cy="13.3" rx="1.1" ry="0.9" fill="#fff" opacity="0.4500804095187191"/>
<ellipse cx="317.9" cy="10.3" rx="1.6" ry="1.1" fill="#fff" opacity="0.8875085048528588"/>
<ellipse cx="277.4" cy="85.5" rx="0.7" ry="0.8" fill="#fff" opacity="0.7569337777718952"/>
<ellipse cx="473.4" cy="30.2" rx="1.3" ry="1.0" fill="#fff" opacity="0.6557962688673401"/>
<ellipse cx="428.4" cy="74.8" rx="1.7" ry="0.9" fill="#fff" opacity="0.5867020177326776"/>
<ellipse cx="387.1" cy="32.4" rx="0.6" ry="0.5" fill="#fff" opacity="0.6859965069189161"/>
<ellipse cx="372.0" cy="61.1" rx="0.8" ry="0.9" fill="#fff" opacity="0.4547077379514601"/>
<ellipse cx="292.4" cy="54.5" rx="1.7" ry="0.9" fill="#fff" opacity="0.8476983130653271"/>
<ellipse cx="341.6" cy="74.6" rx="0.8" ry="1.2" fill="#fff" opacity="0.7670941482658871"/>
<ellipse cx="294.1" cy="92.9" rx="1.1" ry="0.9" fill="#fff" opacity="0.6390071424580472"/>
<ellipse cx="279.9" cy="35.4" rx="1.7" ry="0.6" fill="#fff" opacity="0.4653438405179996"/>
<ellipse cx="302.7" cy="58.1" rx="1.4" ry="0.6" fill="#fff" opacity="0.8086788977045569"/>
<ellipse cx="416.2" cy="50.5" rx="0.8" ry="1.2" fill="#fff" opacity="0.590272084211079"/>
<ellipse cx="439.1" cy="75.0" rx="0.8" ry="1.0" fill="#fff" opacity="0.5827197827328267"/>
<ellipse cx="476.4" cy="51.3" rx="0.7" ry="0.6" fill="#fff" opacity="0.6376630869483814"/>
<ellipse cx="395.3" cy="8.1" rx="0.7" ry="0.7" fill="#fff" opacity="0.5458270837413737"/>
<ellipse cx="482.7" cy="82.7" rx="0.6" ry="0.4" fill="#fff" opacity="0.62699476333215"/>
<ellipse cx="461.2" cy="14.5" rx="1.5" ry="1.2" fill="#fff" opacity="0.8692179741303264"/>
<ellipse cx="300.2" cy="78.9" rx="1.7" ry="1.0" fill="#fff" opacity="0.46435215950252273"/>
<ellipse cx="395.1" cy="61.9" rx="1.0" ry="0.7" fill="#fff" opacity="0.5261674240159313"/>
<ellipse cx="306.5" cy="7.4" rx="0.7" ry="1.2" fill="#fff" opacity="0.5433310949881253"/>
<ellipse cx="308.0" cy="20.6" rx="1.6" ry="0.7" fill="#fff" opacity="0.47216580113295775"/>
<ellipse cx="416.2" cy="48.7" rx="1.8" ry="3.2" fill="#fff" opacity="0.9"/>
<ellipse cx="450.7" cy="44.3" rx="2.4" ry="2.4" fill="#fff" opacity="0.9"/>
<ellipse cx="218.8" cy="81.6" rx="3.5" ry="0.9" fill="#fff" opacity="0.9"/>
<ellipse cx="189.2" cy="82.6" rx="3.2" ry="0.9" fill="#fff" opacity="0.9"/>
<ellipse cx="231.2" cy="109.6" rx="0.8" ry="3.5" fill="#fff" opacity="0.9"/>
<ellipse cx="234.7" cy="22.3" rx="2.5" ry="1.0" fill="#fff" opacity="0.9"/>
<ellipse cx="434.8" cy="16.0" rx="3.0" ry="1.2" fill="#fff" opacity="0.9"/>
<ellipse cx="400.3" cy="19.5" rx="3.5" ry="1.0" fill="#fff" opacity="0.9"/>
<ellipse cx="484.5" cy="14.8" rx="3.5" ry="1.4" fill="#fff" opacity="0.9"/>
<ellipse cx="472.8" cy="7.7" rx="2.5" ry="1.2" fill="#fff" opacity="0.9"/>
<ellipse cx="310.6" cy="47.6" rx="1.5" ry="2.2" fill="#fff" opacity="0.9"/>
<ellipse cx="289.9" cy="55.3" rx="3.0" ry="1.2" fill="#fff" opacity="0.9"/>
<ellipse cx="394.0" cy="16.5" rx="3" ry="1.3" fill="#fff" opacity="0.8"/>
<ellipse cx="401.0" cy="14.5" rx="3.5" ry="1.5" fill="#fff" opacity="0.85"/>
<ellipse cx="408.0" cy="12.5" rx="3" ry="1.2" fill="#fff" opacity="0.8"/>
<ellipse cx="418.7" cy="48.2" rx="1.1" ry="3.6" fill="#fff" opacity="0.85"/>
<ellipse cx="443.0" cy="9.0" rx="3.5" ry="2.2" fill="#fff" opacity="0.8"/>
<ellipse cx="449.0" cy="6.5" rx="3.5" ry="1.8" fill="#fff" opacity="0.8"/>
<ellipse cx="480.2" cy="14.7" rx="3" ry="3" fill="#fff" opacity="0.7"/>
<ellipse cx="476.0" cy="7.0" rx="3" ry="1.5" fill="#fff" opacity="0.6"/>
<ellipse cx="407.6" cy="74.0" rx="2.2" ry="1.6" fill="#fff" opacity="0.8"/>
<ellipse cx="395.0" cy="32.0" rx="1.5" ry="2.6" fill="#fff" opacity="0.8"/>
<ellipse cx="274.2" cy="5.6" rx="2.5" ry="1.2" fill="#fff" opacity="0.8"/>
<ellipse cx="302.8" cy="16.0" rx="1.6" ry="1.2" fill="#fff" opacity="0.8"/>
<ellipse cx="466.0" cy="22.0" rx="2" ry="3" fill="#fff" opacity="0.5"/>
<ellipse cx="436.0" cy="32.0" rx="2.5" ry="1.2" fill="#fff" opacity="0.6"/>
<ellipse cx="454.0" cy="42.0" rx="3" ry="1.2" fill="#fff" opacity="0.6"/>
<ellipse cx="426.0" cy="22.0" rx="2.5" ry="1" fill="#fff" opacity="0.6"/>
</g>
<path d="M68.8 97.3 L73.2 97.8 L76.7 98.8 L77.4 103.2 L81.5 104.2 L88.4 103.2 L93.2 102.7 L99.5 100.6 L103.6 99.8 L118.0 99.8" fill="none" stroke="#d2d2d2" stroke-width="0.7" stroke-linejoin="round"/>
<path d="M117.1 69.1 L117.1 95.6 L118.0 99.8 L120.9 104.7 L118.4 109.6 L116.0 115.4 L117.4 119.3 L117.2 121.2 L117.2 138.2" fill="none" stroke="#d2d2d2" stroke-width="0.7" stroke-linejoin="round"/>
<path d="M67.0 138.2 L158.5 138.2" fill="none" stroke="#d2d2d2" stroke-width="0.7" stroke-linejoin="round"/>
<path d="M96.7 138.2 L96.7 165.4 L133.8 200.0 L134.2 205.8 L135.3 207.5 L134.6 212.5 L133.3 216.6 L133.1 218.9" fill="none" stroke="#d2d2d2" stroke-width="0.7" stroke-linejoin="round"/>
<path d="M137.8 138.2 L137.8 190.6 L132.9 191.1 L133.8 200.0" fill="none" stroke="#d2d2d2" stroke-width="0.7" stroke-linejoin="round"/>
<path d="M137.8 182.9 L220.6 182.9" fill="none" stroke="#d2d2d2" stroke-width="0.7" stroke-linejoin="round"/>
<path d="M172.3 147.4 L172.3 230.2" fill="none" stroke="#d2d2d2" stroke-width="0.7" stroke-linejoin="round"/>
<path d="M124.0 69.1 L124.0 79.5 L126.4 85.2 L132.6 90.7 L136.0 93.3 L135.3 98.8 L134.6 104.2 L138.8 103.2 L141.5 108.6 L145.7 115.4 L149.8 114.0 L155.4 114.0 L158.5 114.5" fill="none" stroke="#d2d2d2" stroke-width="0.7" stroke-linejoin="round"/>
<path d="M158.5 109.6 L158.5 147.4" fill="none" stroke="#d2d2d2" stroke-width="0.7" stroke-linejoin="round"/>
<path d="M158.5 109.6 L206.8 109.6" fill="none" stroke="#d2d2d2" stroke-width="0.7" stroke-linejoin="round"/>
<path d="M206.8 69.1 L206.8 147.4" fill="none" stroke="#d2d2d2" stroke-width="0.7" stroke-linejoin="round"/>
<path d="M158.5 147.4 L220.6 147.4 L220.6 182.9" fill="none" stroke="#d2d2d2" stroke-width="0.7" stroke-linejoin="round"/>
<path d="M220.6 156.4 L267.1 156.4" fill="none" stroke="#d2d2d2" stroke-width="0.7" stroke-linejoin="round"/>
<path d="M206.8 128.8 L245.0 128.8 L249.2 130.7 L254.0 130.2 L259.2 133.5 L261.6 140.9 L263.3 147.4 L267.1 156.4 L269.9 158.2 L271.8 164.5 L271.8 187.2" fill="none" stroke="#d2d2d2" stroke-width="0.7" stroke-linejoin="round"/>
<path d="M206.8 100.4 L258.4 100.4" fill="none" stroke="#d2d2d2" stroke-width="0.7" stroke-linejoin="round"/>
<path d="M253.8 69.1 L256.8 89.7 L258.4 100.4 L256.4 103.7 L259.2 106.7 L259.2 124.1 L258.2 130.7 L259.2 133.5" fill="none" stroke="#d2d2d2" stroke-width="0.7" stroke-linejoin="round"/>
<path d="M259.2 124.1 L295.3 124.1" fill="none" stroke="#d2d2d2" stroke-width="0.7" stroke-linejoin="round"/>
<path d="M263.9 151.2 L292.0 151.2 L293.9 153.0" fill="none" stroke="#d2d2d2" stroke-width="0.7" stroke-linejoin="round"/>
<path d="M214.0 182.9 L213.7 224.8 L189.0 224.8 L189.6 226.6" fill="none" stroke="#d2d2d2" stroke-width="0.7" stroke-linejoin="round"/>
<path d="M214.0 187.2 L234.7 187.2 L234.7 203.7 L240.2 206.7 L245.0 207.5 L249.2 209.2 L254.0 210.4 L258.9 210.0 L265.8 209.2 L272.8 211.3 L275.8 212.1 L275.8 224.8 L277.5 228.8 L279.6 232.9 L278.2 236.9 L277.8 240.9 L277.1 243.3" fill="none" stroke="#d2d2d2" stroke-width="0.7" stroke-linejoin="round"/>
<path d="M220.6 182.9 L271.8 182.9" fill="none" stroke="#d2d2d2" stroke-width="0.7" stroke-linejoin="round"/>
<path d="M271.8 187.2 L302.7 187.2 L301.1 191.5 L305.8 191.5" fill="none" stroke="#d2d2d2" stroke-width="0.7" stroke-linejoin="round"/>
<path d="M272.8 211.3 L273.1 196.6 L271.8 187.2" fill="none" stroke="#d2d2d2" stroke-width="0.7" stroke-linejoin="round"/>
<path d="M275.8 216.6 L295.6 216.6" fill="none" stroke="#d2d2d2" stroke-width="0.7" stroke-linejoin="round"/>
<path d="M284.4 103.7 L284.7 112.0 L289.9 115.4 L294.7 121.2 L295.4 125.0 L296.1 131.6 L299.2 133.5 L302.3 140.0 L296.8 143.7 L296.1 149.2 L293.4 154.6 L294.0 158.2 L298.9 165.4 L302.3 167.2 L301.3 172.4 L307.1 180.3 L309.6 182.9 L307.1 187.2 L305.8 191.5 L303.7 199.1 L299.6 204.2 L296.1 210.8 L295.8 216.6 L296.8 220.7 L294.0 228.0 L292.7 232.9 L305.6 232.9 L306.5 239.3" fill="none" stroke="#d2d2d2" stroke-width="0.7" stroke-linejoin="round"/>
<path d="M284.4 103.7 L287.8 98.8 L287.8 93.3 L289.2 92.3" fill="none" stroke="#d2d2d2" stroke-width="0.7" stroke-linejoin="round"/>
<path d="M300.9 94.3 L309.9 98.8 L316.8 101.7 L318.9 106.2 L320.3 108.6" fill="none" stroke="#d2d2d2" stroke-width="0.7" stroke-linejoin="round"/>
<path d="M299.2 133.5 L318.9 133.5" fill="none" stroke="#d2d2d2" stroke-width="0.7" stroke-linejoin="round"/>
<path d="M320.7 140.5 L320.7 162.3 L320.3 168.0 L317.2 175.9" fill="none" stroke="#d2d2d2" stroke-width="0.7" stroke-linejoin="round"/>
<path d="M339.4 140.9 L339.4 164.5" fill="none" stroke="#d2d2d2" stroke-width="0.7" stroke-linejoin="round"/>
<path d="M323.0 140.4 L339.4 140.4 L348.9 140.7" fill="none" stroke="#d2d2d2" stroke-width="0.7" stroke-linejoin="round"/>
<path d="M369.1 138.2 L369.1 159.0" fill="none" stroke="#d2d2d2" stroke-width="0.7" stroke-linejoin="round"/>
<path d="M369.1 150.6 L368.2 154.6 L366.8 159.1 L361.0 164.5 L357.5 168.9 L354.8 170.7 L347.9 168.5 L341.6 164.5 L339.4 164.5 L335.4 168.0 L332.7 172.0 L327.9 174.2 L321.0 174.6 L317.2 175.9 L314.1 182.0 L309.6 182.9" fill="none" stroke="#d2d2d2" stroke-width="0.7" stroke-linejoin="round"/>
<path d="M307.1 187.2 L317.2 187.2 L317.2 185.9 L347.3 186.3 L401.0 186.8" fill="none" stroke="#d2d2d2" stroke-width="0.7" stroke-linejoin="round"/>
<path d="M301.6 200.0 L351.3 200.0" fill="none" stroke="#d2d2d2" stroke-width="0.7" stroke-linejoin="round"/>
<path d="M342.9 200.0 L345.1 196.6 L351.3 193.6 L354.8 191.5 L358.9 190.6 L361.0 186.4" fill="none" stroke="#d2d2d2" stroke-width="0.7" stroke-linejoin="round"/>
<path d="M316.1 200.0 L314.4 238.9" fill="none" stroke="#d2d2d2" stroke-width="0.7" stroke-linejoin="round"/>
<path d="M334.1 200.0 L337.0 217.7 L338.2 222.3 L337.5 228.8 L338.2 232.9" fill="none" stroke="#d2d2d2" stroke-width="0.7" stroke-linejoin="round"/>
<path d="M320.3 232.9 L338.2 232.9 L339.2 235.3 L357.5 236.3 L358.9 237.7 L362.7 235.3" fill="none" stroke="#d2d2d2" stroke-width="0.7" stroke-linejoin="round"/>
<path d="M320.3 232.9 L321.0 238.5" fill="none" stroke="#d2d2d2" stroke-width="0.7" stroke-linejoin="round"/>
<path d="M351.3 200.0 L357.5 210.4 L362.4 216.6 L366.5 224.4" fill="none" stroke="#d2d2d2" stroke-width="0.7" stroke-linejoin="round"/>
<path d="M351.3 200.0 L356.8 198.3 L365.5 198.7 L367.2 201.5 L375.0 201.6 L382.7 209.6" fill="none" stroke="#d2d2d2" stroke-width="0.7" stroke-linejoin="round"/>
<path d="M347.3 186.3 L354.1 182.0 L358.9 178.6 L354.8 170.7" fill="none" stroke="#d2d2d2" stroke-width="0.7" stroke-linejoin="round"/>
<path d="M358.9 178.6 L364.4 180.7 L370.6 178.6 L374.1 171.6 L379.6 167.2 L384.1 161.8 L388.2 162.7 L393.1 166.3 L398.2 174.2" fill="none" stroke="#d2d2d2" stroke-width="0.7" stroke-linejoin="round"/>
<path d="M376.3 159.0 L376.3 163.6 L384.1 161.8" fill="none" stroke="#d2d2d2" stroke-width="0.7" stroke-linejoin="round"/>
<path d="M369.1 159.0 L401.7 159.0 L403.1 158.1 L404.1 158.2" fill="none" stroke="#d2d2d2" stroke-width="0.7" stroke-linejoin="round"/>
<path d="M401.7 159.0 L402.0 170.2 L406.9 170.2" fill="none" stroke="#d2d2d2" stroke-width="0.7" stroke-linejoin="round"/>
<path d="M402.4 170.2 L403.1 174.6" fill="none" stroke="#d2d2d2" stroke-width="0.7" stroke-linejoin="round"/>
<path d="M374.4 138.2 L404.8 138.2 L409.3 144.2 L406.5 148.3 L405.8 151.0 L408.9 154.6 L406.5 157.3 L404.1 158.2" fill="none" stroke="#d2d2d2" stroke-width="0.7" stroke-linejoin="round"/>
<path d="M409.3 144.2 L414.8 147.4" fill="none" stroke="#d2d2d2" stroke-width="0.7" stroke-linejoin="round"/>
<path d="M416.5 147.4 L417.6 144.6 L417.6 137.7 L419.1 131.3 L419.3 123.1 L418.6 109.6" fill="none" stroke="#d2d2d2" stroke-width="0.7" stroke-linejoin="round"/>
<path d="M417.6 137.7 L429.3 138.0" fill="none" stroke="#d2d2d2" stroke-width="0.7" stroke-linejoin="round"/>
<path d="M429.3 138.0 L429.3 144.6" fill="none" stroke="#d2d2d2" stroke-width="0.7" stroke-linejoin="round"/>
<path d="M432.2 138.0 L433.4 141.9" fill="none" stroke="#d2d2d2" stroke-width="0.7" stroke-linejoin="round"/>
<path d="M419.1 131.3 L432.7 131.6 L436.2 130.0" fill="none" stroke="#d2d2d2" stroke-width="0.7" stroke-linejoin="round"/>
<path d="M424.8 131.3 L425.8 124.1 L427.6 117.4 L431.4 109.6" fill="none" stroke="#d2d2d2" stroke-width="0.7" stroke-linejoin="round"/>
<path d="M436.9 127.8 L434.9 125.0 L434.2 106.7" fill="none" stroke="#d2d2d2" stroke-width="0.7" stroke-linejoin="round"/>
<path d="M165.7 -5.5 L165.7 69.1" fill="none" stroke="#d2d2d2" stroke-width="0.7" stroke-linejoin="round"/>
<path d="M221.6 -5.5 L225.3 69.1" fill="none" stroke="#d2d2d2" stroke-width="0.7" stroke-linejoin="round"/>
<path d="M268.2 65.1 L268.2 26.9 L296.8 -5.5" fill="none" stroke="#d2d2d2" stroke-width="0.7" stroke-linejoin="round"/>
<path d="M376.0 43.2 L376.0 84.1 L379.6 91.8 L386.5 97.8 L392.0 101.3 L396.9 104.7 L402.4 105.7 L411.3 104.2 L410.6 109.1" fill="none" stroke="#d2d2d2" stroke-width="0.7" stroke-linejoin="round"/>
<path d="M448.3 86.7 L452.7 80.6 L463.1 80.0 L466.5 79.5" fill="none" stroke="#d2d2d2" stroke-width="0.7" stroke-linejoin="round"/>
<path d="M482.8 99.8 L481.0 101.3" fill="none" stroke="#d2d2d2" stroke-width="0.7" stroke-linejoin="round"/>
<path d="M96.7 -1.0 L96.7 15.8 L100.0 19.0 L105.3 25.0 L110.0 31.5 L115.8 36.8 L121.0 43.0 L126.3 47.4 L130.0 52.5 L132.9 56.6 L135.0 62.0 L136.8 68.9" fill="none" stroke="#d2d2d2" stroke-width="0.7"/>
<path d="M131.2 256.7 L146.4 256.7" fill="none" stroke="#e0e0e0" stroke-width="0.6" stroke-linejoin="round"/>
<path d="M178.1 230.2 L175.4 254.3 L180.2 266.0 L189.9 278.3 L195.4 294.9 L205.0 299.4" fill="none" stroke="#e0e0e0" stroke-width="0.6" stroke-linejoin="round"/>
<path d="M172.6 258.2 L175.4 254.3" fill="none" stroke="#e0e0e0" stroke-width="0.6" stroke-linejoin="round"/>
<path d="M211.9 248.8 L207.8 266.0 L216.8 279.0 L209.9 287.4 L205.0 299.4" fill="none" stroke="#e0e0e0" stroke-width="0.6" stroke-linejoin="round"/>
<path d="M229.2 255.1 L233.3 267.5 L234.7 279.8 L228.5 290.4 L236.8 297.2 L245.0 299.4 L249.5 300.1" fill="none" stroke="#e0e0e0" stroke-width="0.6" stroke-linejoin="round"/>
<path d="M238.1 260.6 L236.1 269.1 L240.9 282.8 L236.8 297.2" fill="none" stroke="#e0e0e0" stroke-width="0.6" stroke-linejoin="round"/>
<path d="M216.8 279.0 L226.4 279.0 L228.5 290.4 L220.9 297.9 L205.0 299.4" fill="none" stroke="#e0e0e0" stroke-width="0.6" stroke-linejoin="round"/>
<path d="M220.9 297.9 L231.2 306.1 L243.7 308.3 L253.0 308.3" fill="none" stroke="#e0e0e0" stroke-width="0.6" stroke-linejoin="round"/>
<path d="M205.0 299.4 L209.2 309.8 L222.3 315.0 L233.3 315.0 L245.7 317.2 L255.4 320.1" fill="none" stroke="#e0e0e0" stroke-width="0.6" stroke-linejoin="round"/>
<path d="M198.1 306.8 L205.0 309.8 L209.2 309.8" fill="none" stroke="#e0e0e0" stroke-width="0.6" stroke-linejoin="round"/>
<path d="M209.2 322.3 L218.8 317.9 L222.3 315.0" fill="none" stroke="#e0e0e0" stroke-width="0.6" stroke-linejoin="round"/>
<path d="M233.3 315.0 L231.9 325.9 L224.4 331.8" fill="none" stroke="#e0e0e0" stroke-width="0.6" stroke-linejoin="round"/>
<path d="M245.7 317.2 L243.7 327.4 L249.9 331.8" fill="none" stroke="#e0e0e0" stroke-width="0.6" stroke-linejoin="round"/>
<path d="M300.9 313.5 L308.5 318.6 L309.6 332.5" fill="none" stroke="#e0e0e0" stroke-width="0.6" stroke-linejoin="round"/>
<path d="M308.5 318.6 L317.5 315.7 L321.0 306.1" fill="none" stroke="#e0e0e0" stroke-width="0.6" stroke-linejoin="round"/>
<path d="M289.9 327.0 L296.8 332.5" fill="none" stroke="#e0e0e0" stroke-width="0.6" stroke-linejoin="round"/>
<path d="M275.4 330.3 L278.9 334.7" fill="none" stroke="#e0e0e0" stroke-width="0.6" stroke-linejoin="round"/>
<path d="M73.9 76.4 L75.3 72.3 L76.0 70.9 L73.9 69.1 L268.2 69.1 L268.2 65.1 L270.6 65.9 L272.0 72.3 L279.6 73.8 L286.5 75.4 L293.4 79.0 L298.2 77.5 L306.5 79.5 L314.7 76.4 L322.3 81.6 L331.3 85.7 L338.9 90.7 L341.0 94.8 L344.4 96.8 L347.9 98.8 L348.6 101.7 L355.5 106.7 L358.2 114.5 L358.2 123.1 L356.1 128.8 L355.5 132.6 L351.3 135.4 L351.3 138.6 L356.1 140.9 L363.7 136.3 L372.7 133.5 L379.6 130.7 L379.3 126.4 L378.2 124.5 L383.1 122.8 L394.8 122.8 L397.2 118.3 L401.7 114.9 L409.3 109.6 L431.4 109.6 L435.8 107.2 L438.9 101.7 L440.0 97.8 L441.7 92.8 L447.0 85.1 L449.3 87.7 L453.4 86.2 L456.9 89.0 L457.0 100.8 L459.3 103.7 L459.6 107.7 L461.7 108.1" fill="none" stroke="#a6a6a6" stroke-width="1.0" stroke-linejoin="round"/>
<path d="M116.6 220.5 L133.1 218.9 L132.6 220.7 L158.3 230.2 L178.1 230.2 L178.1 226.6 L189.6 226.6 L200.2 235.7 L203.6 243.7 L212.6 248.8 L216.1 242.9 L225.0 242.7 L229.9 248.0 L232.6 254.3 L238.1 260.6 L240.9 269.1 L247.1 271.8 L254.4 272.5" fill="none" stroke="#a6a6a6" stroke-width="1.0" stroke-linejoin="round"/>
<path d="M27.7 -5.5 L27.0 -0.7 L23.6 5.3" fill="none" stroke="#a6a6a6" stroke-width="1.0" stroke-linejoin="round"/>
<path d="M427.9 319.0 L430.0 324.5 L427.9 327.4 L429.6 331.8" fill="none" stroke="#a6a6a6" stroke-width="1.0" stroke-linejoin="round"/>
<path d="M309.6 332.5 L309.6 335.4" fill="none" stroke="#a6a6a6" stroke-width="1.0" stroke-linejoin="round"/>
<path d="M315.4 328.1 L311.3 332.5" fill="none" stroke="#a6a6a6" stroke-width="1.0" stroke-linejoin="round"/>
<path d="M456.2 -5.5 L458.3 7.7 L461.0 11.3 L460.3 18.3 L463.1 21.8 L465.2 27.5 L470.0 30.9 L476.2 35.4 L481.7 38.2 L483.8 30.9 L486.6 26.4 L485.9 36.6 L503.8 36.6" fill="none" stroke="#b4b4b4" stroke-width="0.8" stroke-linejoin="round"/>
<g fill="#9a9a9a" font-size="12.5">
<text x="243" y="149.5" text-anchor="middle">United</text><text x="243" y="163.79999999999995" text-anchor="middle">States</text>
<text x="223.3" y="295.5" text-anchor="middle" font-size="12">Mexico</text>
</g>
<text x="4.300000000000001" y="324.29999999999995" fill="#6a6a6a" font-size="11" textLength="80.7" lengthAdjust="spacing">© 2021 Mapbox</text><text x="91.2" y="324.29999999999995" fill="#6a6a6a" font-size="11" textLength="93" lengthAdjust="spacing">© OpenStreetMap</text>
<circle cx="93.4" cy="84.6" r="13.2" fill="#fff4e2" opacity="0.85" filter="url(#bl)"/>
<path d="M93.4 84.6 L93.40 73.10 A11.5 11.5 0 0 1 103.36 90.35 Z" fill="#dc8f20"/>
<path d="M93.4 84.6 L103.36 90.35 A11.5 11.5 0 1 1 93.40 73.10 Z" fill="#1f9048"/>
<circle cx="99.0" cy="180.2" r="12.6" fill="#fff4e2" opacity="0.85" filter="url(#bl)"/>
<path d="M99.0 180.2 L98.62 169.31 A10.9 10.9 0 1 1 90.90 187.49 Z" fill="#dc8f20"/>
<path d="M99.0 180.2 L90.90 187.49 A10.9 10.9 0 0 1 98.62 169.31 Z" fill="#1f9048"/>
<circle cx="197.0" cy="164.9" r="4.8" fill="#fff4e2" opacity="0.85" filter="url(#bl)"/>
<circle cx="197.0" cy="164.9" r="3.1" fill="#dc8f20"/>
<circle cx="239.9" cy="230.4" r="5.8" fill="#fff4e2" opacity="0.85" filter="url(#bl)"/>
<circle cx="239.9" cy="230.4" r="4.1" fill="#dc8f20"/>
<circle cx="303.6" cy="114.5" r="7.0" fill="#fff4e2" opacity="0.85" filter="url(#bl)"/>
<path d="M303.6 114.5 L304.52 109.28 A5.3 5.3 0 0 1 304.06 119.78 Z" fill="#dc8f20"/>
<path d="M303.6 114.5 L304.06 119.78 A5.3 5.3 0 1 1 304.52 109.28 Z" fill="#c0091e"/>
<circle cx="340.8" cy="127.6" r="4.9" fill="#fff4e2" opacity="0.85" filter="url(#bl)"/>
<circle cx="340.8" cy="127.6" r="3.2" fill="#dc8f20"/>
<circle cx="308.7" cy="156.5" r="11.8" fill="#fff4e2" opacity="0.85" filter="url(#bl)"/>
<path d="M308.7 156.5 L309.23 146.41 A10.1 10.1 0 1 1 300.96 150.01 Z" fill="#dc8f20"/>
<path d="M308.7 156.5 L300.96 150.01 A10.1 10.1 0 0 1 309.23 146.41 Z" fill="#1f9048"/>
<circle cx="329.6" cy="156.2" r="4.4" fill="#fff4e2" opacity="0.85" filter="url(#bl)"/>
<circle cx="329.6" cy="156.2" r="2.7" fill="#dc8f20"/>
<circle cx="351.7" cy="153.8" r="4.3" fill="#fff4e2" opacity="0.85" filter="url(#bl)"/>
<circle cx="351.7" cy="153.8" r="2.6" fill="#dc8f20"/>
<circle cx="286.3" cy="171.8" r="4.6" fill="#fff4e2" opacity="0.85" filter="url(#bl)"/>
<circle cx="286.3" cy="171.8" r="2.9" fill="#c0091e"/>
<circle cx="329.5" cy="193.3" r="4.3" fill="#fff4e2" opacity="0.85" filter="url(#bl)"/>
<circle cx="329.5" cy="193.3" r="2.6" fill="#dc8f20"/>
<circle cx="304.8" cy="212.1" r="3.1" fill="#fff4e2" opacity="0.85" filter="url(#bl)"/>
<circle cx="304.8" cy="212.1" r="1.4" fill="#2a6d58"/>
<circle cx="348.5" cy="223.0" r="6.4" fill="#fff4e2" opacity="0.85" filter="url(#bl)"/>
<path d="M348.5 223.0 L348.50 218.30 A4.7 4.7 0 1 1 345.18 219.68 Z" fill="#dc8f20"/>
<path d="M348.5 223.0 L345.18 219.68 A4.7 4.7 0 0 1 347.68 218.37 Z" fill="#c0091e"/>
<path d="M348.5 223.0 L347.68 218.37 A4.7 4.7 0 0 1 348.50 218.30 Z" fill="#dc8f20"/>
<circle cx="372.5" cy="195.4" r="6.1" fill="#fff4e2" opacity="0.85" filter="url(#bl)"/>
<circle cx="372.5" cy="195.4" r="4.4" fill="#1f9048"/>
<circle cx="426.4" cy="134.5" r="17.3" fill="#fff4e2" opacity="0.85" filter="url(#bl)"/>
<path d="M426.4 134.5 L426.40 118.90 A15.6 15.6 0 0 1 439.02 143.67 Z" fill="#dc8f20"/>
<path d="M426.4 134.5 L439.02 143.67 A15.6 15.6 0 0 1 414.28 144.32 Z" fill="#c0091e"/>
<path d="M426.4 134.5 L414.28 144.32 A15.6 15.6 0 0 1 426.40 118.90 Z" fill="#1f9048"/>
<circle cx="403.6" cy="128.5" r="8.7" fill="#fff4e2" opacity="0.85" filter="url(#bl)"/>
<circle cx="403.6" cy="128.5" r="7.0" fill="#dc8f20"/>
<circle cx="386.8" cy="148.3" r="5.9" fill="#fff4e2" opacity="0.85" filter="url(#bl)"/>
<circle cx="386.8" cy="148.3" r="4.2" fill="#dc8f20"/>
<circle cx="410.5" cy="154.6" r="11.2" fill="#fff4e2" opacity="0.85" filter="url(#bl)"/>
<path d="M410.5 154.6 L410.83 145.11 A9.5 9.5 0 1 1 408.85 163.96 Z" fill="#dc8f20"/>
<path d="M410.5 154.6 L408.85 163.96 A9.5 9.5 0 0 1 401.46 157.54 Z" fill="#c0091e"/>
<path d="M410.5 154.6 L401.46 157.54 A9.5 9.5 0 0 1 410.83 145.11 Z" fill="#1f9048"/>
<circle cx="384.5" cy="175.7" r="10.0" fill="#fff4e2" opacity="0.85" filter="url(#bl)"/>
<path d="M384.5 175.7 L385.80 167.50 A8.3 8.3 0 0 1 391.30 180.46 Z" fill="#dc8f20"/>
<path d="M384.5 175.7 L391.30 180.46 A8.3 8.3 0 1 1 385.80 167.50 Z" fill="#c0091e"/>
<circle cx="392.5" cy="159.4" r="5.0" fill="#fff4e2" opacity="0.85" filter="url(#bl)"/>
<circle cx="392.5" cy="159.4" r="3.3" fill="#1f9048"/>
<circle cx="393.1" cy="166.0" r="7.7" fill="#fff4e2" opacity="0.85" filter="url(#bl)"/>
<circle cx="393.1" cy="166.0" r="6.0" fill="#dc8f20"/>
</svg>
</body></html>
